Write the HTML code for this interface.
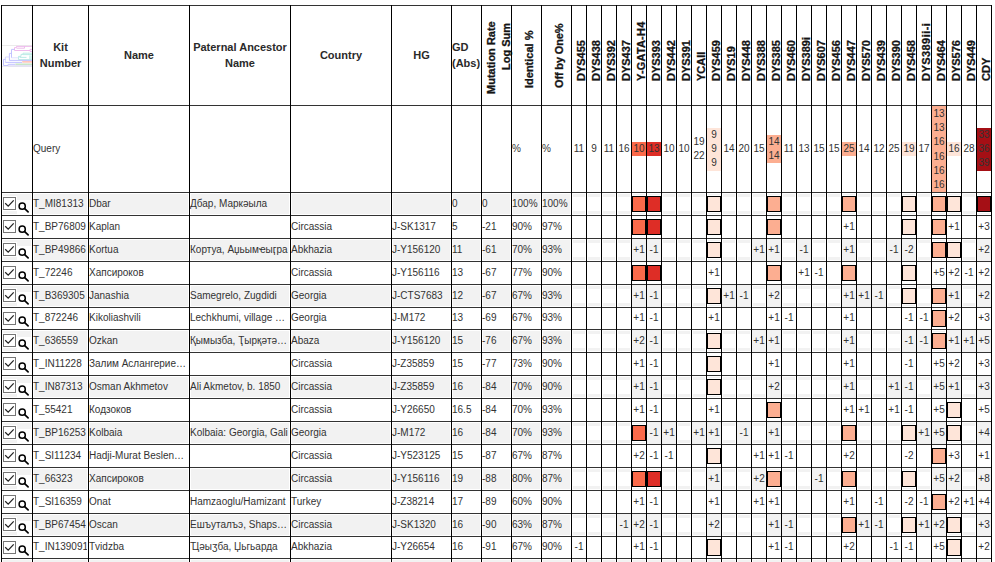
<!DOCTYPE html>
<html><head><meta charset="utf-8"><title>Y-STR comparison</title>
<style>
html,body{margin:0;padding:0;background:#fff;}
body{width:995px;height:562px;overflow:hidden;position:relative;font-family:"Liberation Sans",sans-serif;}
#p{position:absolute;left:0;top:0;width:995px;height:562px;overflow:hidden;background:#fff;}
#p div{position:absolute;}
.t{font-size:10px;line-height:14px;height:14px;color:#333;white-space:nowrap;overflow:hidden;}
.c{font-size:10px;line-height:14px;height:14px;color:#333;white-space:nowrap;text-align:center;}
.h{font-size:11px;line-height:16px;font-weight:bold;color:#2a2a2a;text-align:center;}
.r{font-size:11px;line-height:11px;height:11px;font-weight:bold;color:#141414;white-space:nowrap;transform-origin:0 0;transform:rotate(-90deg);-webkit-text-stroke:0.3px #141414;}
.b{box-sizing:border-box;border:1px solid #000;}
#p svg{position:absolute;}
</style></head><body><div id="p">
<div style="left:3px;top:194px;width:28px;height:20px;background:#f2f2f2;"></div>
<div style="left:34px;top:194px;width:53px;height:20px;background:#f2f2f2;"></div>
<div style="left:90px;top:194px;width:98px;height:20px;background:#f2f2f2;"></div>
<div style="left:191px;top:194px;width:98px;height:20px;background:#f2f2f2;"></div>
<div style="left:292px;top:194px;width:98px;height:20px;background:#f2f2f2;"></div>
<div style="left:393px;top:194px;width:57px;height:20px;background:#f2f2f2;"></div>
<div style="left:453px;top:194px;width:27px;height:20px;background:#f2f2f2;"></div>
<div style="left:483px;top:194px;width:27px;height:20px;background:#f2f2f2;"></div>
<div style="left:513px;top:194px;width:27px;height:20px;background:#f2f2f2;"></div>
<div style="left:543px;top:194px;width:27px;height:20px;background:#f2f2f2;"></div>
<div style="left:17px;top:200px;width:14px;height:14px;background:#fff;"></div>
<div style="left:2px;top:196px;width:15px;height:15px;background:#fff;"></div>
<div class="t" style="left:33px;top:197px;width:54px;">T_MI81313</div>
<div class="t" style="left:89px;top:197px;width:99px;">Dbar</div>
<div class="t" style="left:190px;top:197px;width:99px;">Дбар, Маркәыла</div>
<div class="t" style="left:452px;top:197px;width:28px;">0</div>
<div class="t" style="left:482px;top:197px;width:28px;">0</div>
<div class="t" style="left:512px;top:197px;width:28px;">100%</div>
<div class="t" style="left:542px;top:197px;width:28px;">100%</div>
<div style="left:3px;top:197px;width:13px;height:13px;box-sizing:border-box;border:1px solid #767676;background:#fff;"></div>
<svg style="left:3px;top:197px" width="13" height="13" viewBox="0 0 13 13"><path d="M2.2 6.2 L5.2 9.1 L10.7 3.4" fill="none" stroke="#222" stroke-width="1.3"/></svg>
<svg style="left:16px;top:200px" width="15" height="15" viewBox="0 0 15 15"><circle cx="6.2" cy="6.2" r="3.1" fill="none" stroke="#000" stroke-width="1.5"/><path d="M8.7 8.7 L12.1 11.9" stroke="#000" stroke-width="1.7" stroke-linecap="round"/></svg>
<div style="left:573px;top:194px;width:12px;height:3px;background:#f2f2f2;"></div>
<div style="left:573px;top:211px;width:12px;height:3px;background:#f2f2f2;"></div>
<div style="left:588px;top:194px;width:12px;height:3px;background:#f2f2f2;"></div>
<div style="left:588px;top:211px;width:12px;height:3px;background:#f2f2f2;"></div>
<div style="left:603px;top:194px;width:12px;height:3px;background:#f2f2f2;"></div>
<div style="left:603px;top:211px;width:12px;height:3px;background:#f2f2f2;"></div>
<div style="left:618px;top:194px;width:12px;height:3px;background:#f2f2f2;"></div>
<div style="left:618px;top:211px;width:12px;height:3px;background:#f2f2f2;"></div>
<div style="left:633px;top:194px;width:12px;height:1px;background:#f2f2f2;"></div>
<div style="left:633px;top:213px;width:12px;height:1px;background:#f2f2f2;"></div>
<div style="left:632px;top:196px;width:14px;height:16px;background:#fb6a4a;box-sizing:border-box;border:1px solid #000;"></div>
<div style="left:648px;top:194px;width:12px;height:1px;background:#f2f2f2;"></div>
<div style="left:648px;top:213px;width:12px;height:1px;background:#f2f2f2;"></div>
<div style="left:647px;top:196px;width:14px;height:16px;background:#de2d26;box-sizing:border-box;border:1px solid #000;"></div>
<div style="left:663px;top:194px;width:12px;height:3px;background:#f2f2f2;"></div>
<div style="left:663px;top:211px;width:12px;height:3px;background:#f2f2f2;"></div>
<div style="left:678px;top:194px;width:12px;height:3px;background:#f2f2f2;"></div>
<div style="left:678px;top:211px;width:12px;height:3px;background:#f2f2f2;"></div>
<div style="left:693px;top:194px;width:12px;height:3px;background:#f2f2f2;"></div>
<div style="left:693px;top:211px;width:12px;height:3px;background:#f2f2f2;"></div>
<div style="left:708px;top:194px;width:12px;height:1px;background:#f2f2f2;"></div>
<div style="left:708px;top:213px;width:12px;height:1px;background:#f2f2f2;"></div>
<div style="left:707px;top:196px;width:14px;height:16px;background:#fee5d9;box-sizing:border-box;border:1px solid #000;"></div>
<div style="left:723px;top:194px;width:12px;height:3px;background:#f2f2f2;"></div>
<div style="left:723px;top:211px;width:12px;height:3px;background:#f2f2f2;"></div>
<div style="left:738px;top:194px;width:12px;height:3px;background:#f2f2f2;"></div>
<div style="left:738px;top:211px;width:12px;height:3px;background:#f2f2f2;"></div>
<div style="left:753px;top:194px;width:12px;height:3px;background:#f2f2f2;"></div>
<div style="left:753px;top:211px;width:12px;height:3px;background:#f2f2f2;"></div>
<div style="left:768px;top:194px;width:12px;height:1px;background:#f2f2f2;"></div>
<div style="left:768px;top:213px;width:12px;height:1px;background:#f2f2f2;"></div>
<div style="left:767px;top:196px;width:14px;height:16px;background:#fcae91;box-sizing:border-box;border:1px solid #000;"></div>
<div style="left:783px;top:194px;width:12px;height:3px;background:#f2f2f2;"></div>
<div style="left:783px;top:211px;width:12px;height:3px;background:#f2f2f2;"></div>
<div style="left:798px;top:194px;width:12px;height:3px;background:#f2f2f2;"></div>
<div style="left:798px;top:211px;width:12px;height:3px;background:#f2f2f2;"></div>
<div style="left:813px;top:194px;width:12px;height:3px;background:#f2f2f2;"></div>
<div style="left:813px;top:211px;width:12px;height:3px;background:#f2f2f2;"></div>
<div style="left:828px;top:194px;width:12px;height:3px;background:#f2f2f2;"></div>
<div style="left:828px;top:211px;width:12px;height:3px;background:#f2f2f2;"></div>
<div style="left:843px;top:194px;width:12px;height:1px;background:#f2f2f2;"></div>
<div style="left:843px;top:213px;width:12px;height:1px;background:#f2f2f2;"></div>
<div style="left:842px;top:196px;width:14px;height:16px;background:#fcae91;box-sizing:border-box;border:1px solid #000;"></div>
<div style="left:858px;top:194px;width:12px;height:3px;background:#f2f2f2;"></div>
<div style="left:858px;top:211px;width:12px;height:3px;background:#f2f2f2;"></div>
<div style="left:873px;top:194px;width:12px;height:3px;background:#f2f2f2;"></div>
<div style="left:873px;top:211px;width:12px;height:3px;background:#f2f2f2;"></div>
<div style="left:888px;top:194px;width:12px;height:3px;background:#f2f2f2;"></div>
<div style="left:888px;top:211px;width:12px;height:3px;background:#f2f2f2;"></div>
<div style="left:903px;top:194px;width:12px;height:1px;background:#f2f2f2;"></div>
<div style="left:903px;top:213px;width:12px;height:1px;background:#f2f2f2;"></div>
<div style="left:902px;top:196px;width:14px;height:16px;background:#fee5d9;box-sizing:border-box;border:1px solid #000;"></div>
<div style="left:918px;top:194px;width:12px;height:3px;background:#f2f2f2;"></div>
<div style="left:918px;top:211px;width:12px;height:3px;background:#f2f2f2;"></div>
<div style="left:933px;top:194px;width:12px;height:1px;background:#f2f2f2;"></div>
<div style="left:933px;top:213px;width:12px;height:1px;background:#f2f2f2;"></div>
<div style="left:932px;top:196px;width:14px;height:16px;background:#fcae91;box-sizing:border-box;border:1px solid #000;"></div>
<div style="left:948px;top:194px;width:12px;height:1px;background:#f2f2f2;"></div>
<div style="left:948px;top:213px;width:12px;height:1px;background:#f2f2f2;"></div>
<div style="left:947px;top:196px;width:14px;height:16px;background:#fee5d9;box-sizing:border-box;border:1px solid #000;"></div>
<div style="left:963px;top:194px;width:12px;height:3px;background:#f2f2f2;"></div>
<div style="left:963px;top:211px;width:12px;height:3px;background:#f2f2f2;"></div>
<div style="left:978px;top:194px;width:12px;height:1px;background:#f2f2f2;"></div>
<div style="left:978px;top:213px;width:12px;height:1px;background:#f2f2f2;"></div>
<div style="left:977px;top:196px;width:14px;height:16px;background:#a50f15;box-sizing:border-box;border:1px solid #000;"></div>
<div class="t" style="left:33px;top:220px;width:54px;">T_BP76809</div>
<div class="t" style="left:89px;top:220px;width:99px;">Kaplan</div>
<div class="t" style="left:291px;top:220px;width:99px;">Circassia</div>
<div class="t" style="left:392px;top:220px;width:58px;">J-SK1317</div>
<div class="t" style="left:452px;top:220px;width:28px;">5</div>
<div class="t" style="left:482px;top:220px;width:28px;">-21</div>
<div class="t" style="left:512px;top:220px;width:28px;">90%</div>
<div class="t" style="left:542px;top:220px;width:28px;">97%</div>
<div style="left:3px;top:220px;width:13px;height:13px;box-sizing:border-box;border:1px solid #767676;background:#fff;"></div>
<svg style="left:3px;top:220px" width="13" height="13" viewBox="0 0 13 13"><path d="M2.2 6.2 L5.2 9.1 L10.7 3.4" fill="none" stroke="#222" stroke-width="1.3"/></svg>
<svg style="left:16px;top:223px" width="15" height="15" viewBox="0 0 15 15"><circle cx="6.2" cy="6.2" r="3.1" fill="none" stroke="#000" stroke-width="1.5"/><path d="M8.7 8.7 L12.1 11.9" stroke="#000" stroke-width="1.7" stroke-linecap="round"/></svg>
<div style="left:632px;top:219px;width:14px;height:16px;background:#fb6a4a;box-sizing:border-box;border:1px solid #000;"></div>
<div style="left:647px;top:219px;width:14px;height:16px;background:#de2d26;box-sizing:border-box;border:1px solid #000;"></div>
<div style="left:707px;top:219px;width:14px;height:16px;background:#fee5d9;box-sizing:border-box;border:1px solid #000;"></div>
<div style="left:767px;top:219px;width:14px;height:16px;background:#fcae91;box-sizing:border-box;border:1px solid #000;"></div>
<div class="c" style="left:842px;top:220px;width:14px;">+1</div>
<div style="left:902px;top:219px;width:14px;height:16px;background:#fee5d9;box-sizing:border-box;border:1px solid #000;"></div>
<div style="left:932px;top:219px;width:14px;height:16px;background:#fcae91;box-sizing:border-box;border:1px solid #000;"></div>
<div class="c" style="left:947px;top:220px;width:14px;">+1</div>
<div class="c" style="left:977px;top:220px;width:14px;">+3</div>
<div style="left:3px;top:240px;width:28px;height:20px;background:#f2f2f2;"></div>
<div style="left:34px;top:240px;width:53px;height:20px;background:#f2f2f2;"></div>
<div style="left:90px;top:240px;width:98px;height:20px;background:#f2f2f2;"></div>
<div style="left:191px;top:240px;width:98px;height:20px;background:#f2f2f2;"></div>
<div style="left:292px;top:240px;width:98px;height:20px;background:#f2f2f2;"></div>
<div style="left:393px;top:240px;width:57px;height:20px;background:#f2f2f2;"></div>
<div style="left:453px;top:240px;width:27px;height:20px;background:#f2f2f2;"></div>
<div style="left:483px;top:240px;width:27px;height:20px;background:#f2f2f2;"></div>
<div style="left:513px;top:240px;width:27px;height:20px;background:#f2f2f2;"></div>
<div style="left:543px;top:240px;width:27px;height:20px;background:#f2f2f2;"></div>
<div style="left:17px;top:246px;width:14px;height:14px;background:#fff;"></div>
<div style="left:2px;top:242px;width:15px;height:15px;background:#fff;"></div>
<div class="t" style="left:33px;top:243px;width:54px;">T_BP49866</div>
<div class="t" style="left:89px;top:243px;width:99px;">Kortua</div>
<div class="t" style="left:190px;top:243px;width:99px;">Кортуа, Аџьымҽыӷра</div>
<div class="t" style="left:291px;top:243px;width:99px;">Abkhazia</div>
<div class="t" style="left:392px;top:243px;width:58px;">J-Y156120</div>
<div class="t" style="left:452px;top:243px;width:28px;">11</div>
<div class="t" style="left:482px;top:243px;width:28px;">-61</div>
<div class="t" style="left:512px;top:243px;width:28px;">70%</div>
<div class="t" style="left:542px;top:243px;width:28px;">93%</div>
<div style="left:3px;top:243px;width:13px;height:13px;box-sizing:border-box;border:1px solid #767676;background:#fff;"></div>
<svg style="left:3px;top:243px" width="13" height="13" viewBox="0 0 13 13"><path d="M2.2 6.2 L5.2 9.1 L10.7 3.4" fill="none" stroke="#222" stroke-width="1.3"/></svg>
<svg style="left:16px;top:246px" width="15" height="15" viewBox="0 0 15 15"><circle cx="6.2" cy="6.2" r="3.1" fill="none" stroke="#000" stroke-width="1.5"/><path d="M8.7 8.7 L12.1 11.9" stroke="#000" stroke-width="1.7" stroke-linecap="round"/></svg>
<div style="left:573px;top:240px;width:12px;height:3px;background:#f2f2f2;"></div>
<div style="left:573px;top:257px;width:12px;height:3px;background:#f2f2f2;"></div>
<div style="left:588px;top:240px;width:12px;height:3px;background:#f2f2f2;"></div>
<div style="left:588px;top:257px;width:12px;height:3px;background:#f2f2f2;"></div>
<div style="left:603px;top:240px;width:12px;height:3px;background:#f2f2f2;"></div>
<div style="left:603px;top:257px;width:12px;height:3px;background:#f2f2f2;"></div>
<div style="left:618px;top:240px;width:12px;height:3px;background:#f2f2f2;"></div>
<div style="left:618px;top:257px;width:12px;height:3px;background:#f2f2f2;"></div>
<div style="left:632px;top:239px;width:14px;height:22px;background:#f2f2f2;"></div>
<div class="c" style="left:632px;top:243px;width:14px;">+1</div>
<div style="left:647px;top:239px;width:14px;height:22px;background:#f2f2f2;"></div>
<div class="c" style="left:647px;top:243px;width:14px;">-1</div>
<div style="left:663px;top:240px;width:12px;height:3px;background:#f2f2f2;"></div>
<div style="left:663px;top:257px;width:12px;height:3px;background:#f2f2f2;"></div>
<div style="left:678px;top:240px;width:12px;height:3px;background:#f2f2f2;"></div>
<div style="left:678px;top:257px;width:12px;height:3px;background:#f2f2f2;"></div>
<div style="left:693px;top:240px;width:12px;height:3px;background:#f2f2f2;"></div>
<div style="left:693px;top:257px;width:12px;height:3px;background:#f2f2f2;"></div>
<div style="left:708px;top:240px;width:12px;height:1px;background:#f2f2f2;"></div>
<div style="left:708px;top:259px;width:12px;height:1px;background:#f2f2f2;"></div>
<div style="left:707px;top:242px;width:14px;height:16px;background:#fee5d9;box-sizing:border-box;border:1px solid #000;"></div>
<div style="left:723px;top:240px;width:12px;height:3px;background:#f2f2f2;"></div>
<div style="left:723px;top:257px;width:12px;height:3px;background:#f2f2f2;"></div>
<div style="left:738px;top:240px;width:12px;height:3px;background:#f2f2f2;"></div>
<div style="left:738px;top:257px;width:12px;height:3px;background:#f2f2f2;"></div>
<div style="left:752px;top:239px;width:14px;height:22px;background:#f2f2f2;"></div>
<div class="c" style="left:752px;top:243px;width:14px;">+1</div>
<div style="left:767px;top:239px;width:14px;height:22px;background:#f2f2f2;"></div>
<div class="c" style="left:767px;top:243px;width:14px;">+1</div>
<div style="left:783px;top:240px;width:12px;height:3px;background:#f2f2f2;"></div>
<div style="left:783px;top:257px;width:12px;height:3px;background:#f2f2f2;"></div>
<div style="left:797px;top:239px;width:14px;height:22px;background:#f2f2f2;"></div>
<div class="c" style="left:797px;top:243px;width:14px;">-1</div>
<div style="left:813px;top:240px;width:12px;height:3px;background:#f2f2f2;"></div>
<div style="left:813px;top:257px;width:12px;height:3px;background:#f2f2f2;"></div>
<div style="left:828px;top:240px;width:12px;height:3px;background:#f2f2f2;"></div>
<div style="left:828px;top:257px;width:12px;height:3px;background:#f2f2f2;"></div>
<div style="left:842px;top:239px;width:14px;height:22px;background:#f2f2f2;"></div>
<div class="c" style="left:842px;top:243px;width:14px;">+1</div>
<div style="left:858px;top:240px;width:12px;height:3px;background:#f2f2f2;"></div>
<div style="left:858px;top:257px;width:12px;height:3px;background:#f2f2f2;"></div>
<div style="left:873px;top:240px;width:12px;height:3px;background:#f2f2f2;"></div>
<div style="left:873px;top:257px;width:12px;height:3px;background:#f2f2f2;"></div>
<div style="left:887px;top:239px;width:14px;height:22px;background:#f2f2f2;"></div>
<div class="c" style="left:887px;top:243px;width:14px;">-1</div>
<div style="left:902px;top:239px;width:14px;height:22px;background:#f2f2f2;"></div>
<div class="c" style="left:902px;top:243px;width:14px;">-2</div>
<div style="left:918px;top:240px;width:12px;height:3px;background:#f2f2f2;"></div>
<div style="left:918px;top:257px;width:12px;height:3px;background:#f2f2f2;"></div>
<div style="left:933px;top:240px;width:12px;height:1px;background:#f2f2f2;"></div>
<div style="left:933px;top:259px;width:12px;height:1px;background:#f2f2f2;"></div>
<div style="left:932px;top:242px;width:14px;height:16px;background:#fcae91;box-sizing:border-box;border:1px solid #000;"></div>
<div style="left:948px;top:240px;width:12px;height:1px;background:#f2f2f2;"></div>
<div style="left:948px;top:259px;width:12px;height:1px;background:#f2f2f2;"></div>
<div style="left:947px;top:242px;width:14px;height:16px;background:#fee5d9;box-sizing:border-box;border:1px solid #000;"></div>
<div style="left:963px;top:240px;width:12px;height:3px;background:#f2f2f2;"></div>
<div style="left:963px;top:257px;width:12px;height:3px;background:#f2f2f2;"></div>
<div style="left:977px;top:239px;width:14px;height:22px;background:#f2f2f2;"></div>
<div class="c" style="left:977px;top:243px;width:14px;">+2</div>
<div class="t" style="left:33px;top:266px;width:54px;">T_72246</div>
<div class="t" style="left:89px;top:266px;width:99px;">Хапсироков</div>
<div class="t" style="left:291px;top:266px;width:99px;">Circassia</div>
<div class="t" style="left:392px;top:266px;width:58px;">J-Y156116</div>
<div class="t" style="left:452px;top:266px;width:28px;">13</div>
<div class="t" style="left:482px;top:266px;width:28px;">-67</div>
<div class="t" style="left:512px;top:266px;width:28px;">77%</div>
<div class="t" style="left:542px;top:266px;width:28px;">90%</div>
<div style="left:3px;top:266px;width:13px;height:13px;box-sizing:border-box;border:1px solid #767676;background:#fff;"></div>
<svg style="left:3px;top:266px" width="13" height="13" viewBox="0 0 13 13"><path d="M2.2 6.2 L5.2 9.1 L10.7 3.4" fill="none" stroke="#222" stroke-width="1.3"/></svg>
<svg style="left:16px;top:269px" width="15" height="15" viewBox="0 0 15 15"><circle cx="6.2" cy="6.2" r="3.1" fill="none" stroke="#000" stroke-width="1.5"/><path d="M8.7 8.7 L12.1 11.9" stroke="#000" stroke-width="1.7" stroke-linecap="round"/></svg>
<div style="left:632px;top:265px;width:14px;height:16px;background:#fb6a4a;box-sizing:border-box;border:1px solid #000;"></div>
<div style="left:647px;top:265px;width:14px;height:16px;background:#de2d26;box-sizing:border-box;border:1px solid #000;"></div>
<div class="c" style="left:707px;top:266px;width:14px;">+1</div>
<div style="left:767px;top:265px;width:14px;height:16px;background:#fcae91;box-sizing:border-box;border:1px solid #000;"></div>
<div class="c" style="left:797px;top:266px;width:14px;">+1</div>
<div class="c" style="left:812px;top:266px;width:14px;">-1</div>
<div style="left:842px;top:265px;width:14px;height:16px;background:#fcae91;box-sizing:border-box;border:1px solid #000;"></div>
<div style="left:902px;top:265px;width:14px;height:16px;background:#fee5d9;box-sizing:border-box;border:1px solid #000;"></div>
<div class="c" style="left:932px;top:266px;width:14px;">+5</div>
<div class="c" style="left:947px;top:266px;width:14px;">+2</div>
<div class="c" style="left:962px;top:266px;width:14px;">-1</div>
<div class="c" style="left:977px;top:266px;width:14px;">+2</div>
<div style="left:3px;top:286px;width:28px;height:20px;background:#f2f2f2;"></div>
<div style="left:34px;top:286px;width:53px;height:20px;background:#f2f2f2;"></div>
<div style="left:90px;top:286px;width:98px;height:20px;background:#f2f2f2;"></div>
<div style="left:191px;top:286px;width:98px;height:20px;background:#f2f2f2;"></div>
<div style="left:292px;top:286px;width:98px;height:20px;background:#f2f2f2;"></div>
<div style="left:393px;top:286px;width:57px;height:20px;background:#f2f2f2;"></div>
<div style="left:453px;top:286px;width:27px;height:20px;background:#f2f2f2;"></div>
<div style="left:483px;top:286px;width:27px;height:20px;background:#f2f2f2;"></div>
<div style="left:513px;top:286px;width:27px;height:20px;background:#f2f2f2;"></div>
<div style="left:543px;top:286px;width:27px;height:20px;background:#f2f2f2;"></div>
<div style="left:17px;top:292px;width:14px;height:14px;background:#fff;"></div>
<div style="left:2px;top:288px;width:15px;height:15px;background:#fff;"></div>
<div class="t" style="left:33px;top:289px;width:54px;">T_B369305</div>
<div class="t" style="left:89px;top:289px;width:99px;">Janashia</div>
<div class="t" style="left:190px;top:289px;width:99px;">Samegrelo, Zugdidi</div>
<div class="t" style="left:291px;top:289px;width:99px;">Georgia</div>
<div class="t" style="left:392px;top:289px;width:58px;">J-CTS7683</div>
<div class="t" style="left:452px;top:289px;width:28px;">12</div>
<div class="t" style="left:482px;top:289px;width:28px;">-67</div>
<div class="t" style="left:512px;top:289px;width:28px;">67%</div>
<div class="t" style="left:542px;top:289px;width:28px;">93%</div>
<div style="left:3px;top:289px;width:13px;height:13px;box-sizing:border-box;border:1px solid #767676;background:#fff;"></div>
<svg style="left:3px;top:289px" width="13" height="13" viewBox="0 0 13 13"><path d="M2.2 6.2 L5.2 9.1 L10.7 3.4" fill="none" stroke="#222" stroke-width="1.3"/></svg>
<svg style="left:16px;top:292px" width="15" height="15" viewBox="0 0 15 15"><circle cx="6.2" cy="6.2" r="3.1" fill="none" stroke="#000" stroke-width="1.5"/><path d="M8.7 8.7 L12.1 11.9" stroke="#000" stroke-width="1.7" stroke-linecap="round"/></svg>
<div style="left:573px;top:286px;width:12px;height:3px;background:#f2f2f2;"></div>
<div style="left:573px;top:303px;width:12px;height:3px;background:#f2f2f2;"></div>
<div style="left:588px;top:286px;width:12px;height:3px;background:#f2f2f2;"></div>
<div style="left:588px;top:303px;width:12px;height:3px;background:#f2f2f2;"></div>
<div style="left:603px;top:286px;width:12px;height:3px;background:#f2f2f2;"></div>
<div style="left:603px;top:303px;width:12px;height:3px;background:#f2f2f2;"></div>
<div style="left:618px;top:286px;width:12px;height:3px;background:#f2f2f2;"></div>
<div style="left:618px;top:303px;width:12px;height:3px;background:#f2f2f2;"></div>
<div style="left:632px;top:285px;width:14px;height:22px;background:#f2f2f2;"></div>
<div class="c" style="left:632px;top:289px;width:14px;">+1</div>
<div style="left:647px;top:285px;width:14px;height:22px;background:#f2f2f2;"></div>
<div class="c" style="left:647px;top:289px;width:14px;">-1</div>
<div style="left:663px;top:286px;width:12px;height:3px;background:#f2f2f2;"></div>
<div style="left:663px;top:303px;width:12px;height:3px;background:#f2f2f2;"></div>
<div style="left:678px;top:286px;width:12px;height:3px;background:#f2f2f2;"></div>
<div style="left:678px;top:303px;width:12px;height:3px;background:#f2f2f2;"></div>
<div style="left:693px;top:286px;width:12px;height:3px;background:#f2f2f2;"></div>
<div style="left:693px;top:303px;width:12px;height:3px;background:#f2f2f2;"></div>
<div style="left:708px;top:286px;width:12px;height:1px;background:#f2f2f2;"></div>
<div style="left:708px;top:305px;width:12px;height:1px;background:#f2f2f2;"></div>
<div style="left:707px;top:288px;width:14px;height:16px;background:#fee5d9;box-sizing:border-box;border:1px solid #000;"></div>
<div style="left:722px;top:285px;width:14px;height:22px;background:#f2f2f2;"></div>
<div class="c" style="left:722px;top:289px;width:14px;">+1</div>
<div style="left:737px;top:285px;width:14px;height:22px;background:#f2f2f2;"></div>
<div class="c" style="left:737px;top:289px;width:14px;">-1</div>
<div style="left:753px;top:286px;width:12px;height:3px;background:#f2f2f2;"></div>
<div style="left:753px;top:303px;width:12px;height:3px;background:#f2f2f2;"></div>
<div style="left:767px;top:285px;width:14px;height:22px;background:#f2f2f2;"></div>
<div class="c" style="left:767px;top:289px;width:14px;">+2</div>
<div style="left:783px;top:286px;width:12px;height:3px;background:#f2f2f2;"></div>
<div style="left:783px;top:303px;width:12px;height:3px;background:#f2f2f2;"></div>
<div style="left:798px;top:286px;width:12px;height:3px;background:#f2f2f2;"></div>
<div style="left:798px;top:303px;width:12px;height:3px;background:#f2f2f2;"></div>
<div style="left:813px;top:286px;width:12px;height:3px;background:#f2f2f2;"></div>
<div style="left:813px;top:303px;width:12px;height:3px;background:#f2f2f2;"></div>
<div style="left:828px;top:286px;width:12px;height:3px;background:#f2f2f2;"></div>
<div style="left:828px;top:303px;width:12px;height:3px;background:#f2f2f2;"></div>
<div style="left:842px;top:285px;width:14px;height:22px;background:#f2f2f2;"></div>
<div class="c" style="left:842px;top:289px;width:14px;">+1</div>
<div style="left:857px;top:285px;width:14px;height:22px;background:#f2f2f2;"></div>
<div class="c" style="left:857px;top:289px;width:14px;">+1</div>
<div style="left:872px;top:285px;width:14px;height:22px;background:#f2f2f2;"></div>
<div class="c" style="left:872px;top:289px;width:14px;">-1</div>
<div style="left:888px;top:286px;width:12px;height:3px;background:#f2f2f2;"></div>
<div style="left:888px;top:303px;width:12px;height:3px;background:#f2f2f2;"></div>
<div style="left:903px;top:286px;width:12px;height:1px;background:#f2f2f2;"></div>
<div style="left:903px;top:305px;width:12px;height:1px;background:#f2f2f2;"></div>
<div style="left:902px;top:288px;width:14px;height:16px;background:#fee5d9;box-sizing:border-box;border:1px solid #000;"></div>
<div style="left:918px;top:286px;width:12px;height:3px;background:#f2f2f2;"></div>
<div style="left:918px;top:303px;width:12px;height:3px;background:#f2f2f2;"></div>
<div style="left:933px;top:286px;width:12px;height:1px;background:#f2f2f2;"></div>
<div style="left:933px;top:305px;width:12px;height:1px;background:#f2f2f2;"></div>
<div style="left:932px;top:288px;width:14px;height:16px;background:#fcae91;box-sizing:border-box;border:1px solid #000;"></div>
<div style="left:947px;top:285px;width:14px;height:22px;background:#f2f2f2;"></div>
<div class="c" style="left:947px;top:289px;width:14px;">+1</div>
<div style="left:963px;top:286px;width:12px;height:3px;background:#f2f2f2;"></div>
<div style="left:963px;top:303px;width:12px;height:3px;background:#f2f2f2;"></div>
<div style="left:977px;top:285px;width:14px;height:22px;background:#f2f2f2;"></div>
<div class="c" style="left:977px;top:289px;width:14px;">+2</div>
<div class="t" style="left:33px;top:311px;width:54px;">T_872246</div>
<div class="t" style="left:89px;top:311px;width:99px;">Kikoliashvili</div>
<div class="t" style="left:190px;top:311px;width:99px;">Lechkhumi, village …</div>
<div class="t" style="left:291px;top:311px;width:99px;">Georgia</div>
<div class="t" style="left:392px;top:311px;width:58px;">J-M172</div>
<div class="t" style="left:452px;top:311px;width:28px;">13</div>
<div class="t" style="left:482px;top:311px;width:28px;">-69</div>
<div class="t" style="left:512px;top:311px;width:28px;">67%</div>
<div class="t" style="left:542px;top:311px;width:28px;">93%</div>
<div style="left:3px;top:312px;width:13px;height:13px;box-sizing:border-box;border:1px solid #767676;background:#fff;"></div>
<svg style="left:3px;top:312px" width="13" height="13" viewBox="0 0 13 13"><path d="M2.2 6.2 L5.2 9.1 L10.7 3.4" fill="none" stroke="#222" stroke-width="1.3"/></svg>
<svg style="left:16px;top:314px" width="15" height="15" viewBox="0 0 15 15"><circle cx="6.2" cy="6.2" r="3.1" fill="none" stroke="#000" stroke-width="1.5"/><path d="M8.7 8.7 L12.1 11.9" stroke="#000" stroke-width="1.7" stroke-linecap="round"/></svg>
<div class="c" style="left:632px;top:311px;width:14px;">+1</div>
<div class="c" style="left:647px;top:311px;width:14px;">-1</div>
<div class="c" style="left:707px;top:311px;width:14px;">+1</div>
<div class="c" style="left:767px;top:311px;width:14px;">+1</div>
<div class="c" style="left:782px;top:311px;width:14px;">-1</div>
<div class="c" style="left:842px;top:311px;width:14px;">+1</div>
<div class="c" style="left:902px;top:311px;width:14px;">-1</div>
<div class="c" style="left:917px;top:311px;width:14px;">-1</div>
<div style="left:932px;top:310px;width:14px;height:17px;background:#fcae91;box-sizing:border-box;border:1px solid #000;"></div>
<div class="c" style="left:947px;top:311px;width:14px;">+2</div>
<div class="c" style="left:977px;top:311px;width:14px;">+3</div>
<div style="left:3px;top:331px;width:28px;height:20px;background:#f2f2f2;"></div>
<div style="left:34px;top:331px;width:53px;height:20px;background:#f2f2f2;"></div>
<div style="left:90px;top:331px;width:98px;height:20px;background:#f2f2f2;"></div>
<div style="left:191px;top:331px;width:98px;height:20px;background:#f2f2f2;"></div>
<div style="left:292px;top:331px;width:98px;height:20px;background:#f2f2f2;"></div>
<div style="left:393px;top:331px;width:57px;height:20px;background:#f2f2f2;"></div>
<div style="left:453px;top:331px;width:27px;height:20px;background:#f2f2f2;"></div>
<div style="left:483px;top:331px;width:27px;height:20px;background:#f2f2f2;"></div>
<div style="left:513px;top:331px;width:27px;height:20px;background:#f2f2f2;"></div>
<div style="left:543px;top:331px;width:27px;height:20px;background:#f2f2f2;"></div>
<div style="left:17px;top:337px;width:14px;height:14px;background:#fff;"></div>
<div style="left:2px;top:333px;width:15px;height:15px;background:#fff;"></div>
<div class="t" style="left:33px;top:334px;width:54px;">T_636559</div>
<div class="t" style="left:89px;top:334px;width:99px;">Ozkan</div>
<div class="t" style="left:190px;top:334px;width:99px;">Қымызба, Ҭырқәтә…</div>
<div class="t" style="left:291px;top:334px;width:99px;">Abaza</div>
<div class="t" style="left:392px;top:334px;width:58px;">J-Y156120</div>
<div class="t" style="left:452px;top:334px;width:28px;">15</div>
<div class="t" style="left:482px;top:334px;width:28px;">-76</div>
<div class="t" style="left:512px;top:334px;width:28px;">67%</div>
<div class="t" style="left:542px;top:334px;width:28px;">93%</div>
<div style="left:3px;top:334px;width:13px;height:13px;box-sizing:border-box;border:1px solid #767676;background:#fff;"></div>
<svg style="left:3px;top:334px" width="13" height="13" viewBox="0 0 13 13"><path d="M2.2 6.2 L5.2 9.1 L10.7 3.4" fill="none" stroke="#222" stroke-width="1.3"/></svg>
<svg style="left:16px;top:337px" width="15" height="15" viewBox="0 0 15 15"><circle cx="6.2" cy="6.2" r="3.1" fill="none" stroke="#000" stroke-width="1.5"/><path d="M8.7 8.7 L12.1 11.9" stroke="#000" stroke-width="1.7" stroke-linecap="round"/></svg>
<div style="left:573px;top:331px;width:12px;height:3px;background:#f2f2f2;"></div>
<div style="left:573px;top:348px;width:12px;height:3px;background:#f2f2f2;"></div>
<div style="left:588px;top:331px;width:12px;height:3px;background:#f2f2f2;"></div>
<div style="left:588px;top:348px;width:12px;height:3px;background:#f2f2f2;"></div>
<div style="left:603px;top:331px;width:12px;height:3px;background:#f2f2f2;"></div>
<div style="left:603px;top:348px;width:12px;height:3px;background:#f2f2f2;"></div>
<div style="left:618px;top:331px;width:12px;height:3px;background:#f2f2f2;"></div>
<div style="left:618px;top:348px;width:12px;height:3px;background:#f2f2f2;"></div>
<div style="left:632px;top:330px;width:14px;height:22px;background:#f2f2f2;"></div>
<div class="c" style="left:632px;top:334px;width:14px;">+2</div>
<div style="left:647px;top:330px;width:14px;height:22px;background:#f2f2f2;"></div>
<div class="c" style="left:647px;top:334px;width:14px;">-1</div>
<div style="left:663px;top:331px;width:12px;height:3px;background:#f2f2f2;"></div>
<div style="left:663px;top:348px;width:12px;height:3px;background:#f2f2f2;"></div>
<div style="left:678px;top:331px;width:12px;height:3px;background:#f2f2f2;"></div>
<div style="left:678px;top:348px;width:12px;height:3px;background:#f2f2f2;"></div>
<div style="left:693px;top:331px;width:12px;height:3px;background:#f2f2f2;"></div>
<div style="left:693px;top:348px;width:12px;height:3px;background:#f2f2f2;"></div>
<div style="left:708px;top:331px;width:12px;height:1px;background:#f2f2f2;"></div>
<div style="left:708px;top:350px;width:12px;height:1px;background:#f2f2f2;"></div>
<div style="left:707px;top:333px;width:14px;height:16px;background:#fee5d9;box-sizing:border-box;border:1px solid #000;"></div>
<div style="left:723px;top:331px;width:12px;height:3px;background:#f2f2f2;"></div>
<div style="left:723px;top:348px;width:12px;height:3px;background:#f2f2f2;"></div>
<div style="left:738px;top:331px;width:12px;height:3px;background:#f2f2f2;"></div>
<div style="left:738px;top:348px;width:12px;height:3px;background:#f2f2f2;"></div>
<div style="left:752px;top:330px;width:14px;height:22px;background:#f2f2f2;"></div>
<div class="c" style="left:752px;top:334px;width:14px;">+1</div>
<div style="left:767px;top:330px;width:14px;height:22px;background:#f2f2f2;"></div>
<div class="c" style="left:767px;top:334px;width:14px;">+1</div>
<div style="left:783px;top:331px;width:12px;height:3px;background:#f2f2f2;"></div>
<div style="left:783px;top:348px;width:12px;height:3px;background:#f2f2f2;"></div>
<div style="left:798px;top:331px;width:12px;height:3px;background:#f2f2f2;"></div>
<div style="left:798px;top:348px;width:12px;height:3px;background:#f2f2f2;"></div>
<div style="left:813px;top:331px;width:12px;height:3px;background:#f2f2f2;"></div>
<div style="left:813px;top:348px;width:12px;height:3px;background:#f2f2f2;"></div>
<div style="left:828px;top:331px;width:12px;height:3px;background:#f2f2f2;"></div>
<div style="left:828px;top:348px;width:12px;height:3px;background:#f2f2f2;"></div>
<div style="left:842px;top:330px;width:14px;height:22px;background:#f2f2f2;"></div>
<div class="c" style="left:842px;top:334px;width:14px;">+1</div>
<div style="left:858px;top:331px;width:12px;height:3px;background:#f2f2f2;"></div>
<div style="left:858px;top:348px;width:12px;height:3px;background:#f2f2f2;"></div>
<div style="left:873px;top:331px;width:12px;height:3px;background:#f2f2f2;"></div>
<div style="left:873px;top:348px;width:12px;height:3px;background:#f2f2f2;"></div>
<div style="left:888px;top:331px;width:12px;height:3px;background:#f2f2f2;"></div>
<div style="left:888px;top:348px;width:12px;height:3px;background:#f2f2f2;"></div>
<div style="left:902px;top:330px;width:14px;height:22px;background:#f2f2f2;"></div>
<div class="c" style="left:902px;top:334px;width:14px;">-1</div>
<div style="left:917px;top:330px;width:14px;height:22px;background:#f2f2f2;"></div>
<div class="c" style="left:917px;top:334px;width:14px;">-1</div>
<div style="left:933px;top:331px;width:12px;height:1px;background:#f2f2f2;"></div>
<div style="left:933px;top:350px;width:12px;height:1px;background:#f2f2f2;"></div>
<div style="left:932px;top:333px;width:14px;height:16px;background:#fcae91;box-sizing:border-box;border:1px solid #000;"></div>
<div style="left:947px;top:330px;width:14px;height:22px;background:#f2f2f2;"></div>
<div class="c" style="left:947px;top:334px;width:14px;">+1</div>
<div style="left:962px;top:330px;width:14px;height:22px;background:#f2f2f2;"></div>
<div class="c" style="left:962px;top:334px;width:14px;">+1</div>
<div style="left:977px;top:330px;width:14px;height:22px;background:#f2f2f2;"></div>
<div class="c" style="left:977px;top:334px;width:14px;">+5</div>
<div class="t" style="left:33px;top:357px;width:54px;">T_IN11228</div>
<div class="t" style="left:89px;top:357px;width:99px;">Залим Аслангерие…</div>
<div class="t" style="left:291px;top:357px;width:99px;">Circassia</div>
<div class="t" style="left:392px;top:357px;width:58px;">J-Z35859</div>
<div class="t" style="left:452px;top:357px;width:28px;">15</div>
<div class="t" style="left:482px;top:357px;width:28px;">-77</div>
<div class="t" style="left:512px;top:357px;width:28px;">73%</div>
<div class="t" style="left:542px;top:357px;width:28px;">90%</div>
<div style="left:3px;top:357px;width:13px;height:13px;box-sizing:border-box;border:1px solid #767676;background:#fff;"></div>
<svg style="left:3px;top:357px" width="13" height="13" viewBox="0 0 13 13"><path d="M2.2 6.2 L5.2 9.1 L10.7 3.4" fill="none" stroke="#222" stroke-width="1.3"/></svg>
<svg style="left:16px;top:360px" width="15" height="15" viewBox="0 0 15 15"><circle cx="6.2" cy="6.2" r="3.1" fill="none" stroke="#000" stroke-width="1.5"/><path d="M8.7 8.7 L12.1 11.9" stroke="#000" stroke-width="1.7" stroke-linecap="round"/></svg>
<div class="c" style="left:632px;top:357px;width:14px;">+1</div>
<div class="c" style="left:647px;top:357px;width:14px;">-1</div>
<div style="left:707px;top:356px;width:14px;height:16px;background:#fee5d9;box-sizing:border-box;border:1px solid #000;"></div>
<div class="c" style="left:767px;top:357px;width:14px;">+1</div>
<div class="c" style="left:842px;top:357px;width:14px;">+1</div>
<div class="c" style="left:902px;top:357px;width:14px;">-1</div>
<div class="c" style="left:932px;top:357px;width:14px;">+5</div>
<div class="c" style="left:947px;top:357px;width:14px;">+2</div>
<div class="c" style="left:977px;top:357px;width:14px;">+3</div>
<div style="left:3px;top:377px;width:28px;height:20px;background:#f2f2f2;"></div>
<div style="left:34px;top:377px;width:53px;height:20px;background:#f2f2f2;"></div>
<div style="left:90px;top:377px;width:98px;height:20px;background:#f2f2f2;"></div>
<div style="left:191px;top:377px;width:98px;height:20px;background:#f2f2f2;"></div>
<div style="left:292px;top:377px;width:98px;height:20px;background:#f2f2f2;"></div>
<div style="left:393px;top:377px;width:57px;height:20px;background:#f2f2f2;"></div>
<div style="left:453px;top:377px;width:27px;height:20px;background:#f2f2f2;"></div>
<div style="left:483px;top:377px;width:27px;height:20px;background:#f2f2f2;"></div>
<div style="left:513px;top:377px;width:27px;height:20px;background:#f2f2f2;"></div>
<div style="left:543px;top:377px;width:27px;height:20px;background:#f2f2f2;"></div>
<div style="left:17px;top:383px;width:14px;height:14px;background:#fff;"></div>
<div style="left:2px;top:379px;width:15px;height:15px;background:#fff;"></div>
<div class="t" style="left:33px;top:380px;width:54px;">T_IN87313</div>
<div class="t" style="left:89px;top:380px;width:99px;">Osman Akhmetov</div>
<div class="t" style="left:190px;top:380px;width:99px;">Ali Akmetov, b. 1850</div>
<div class="t" style="left:291px;top:380px;width:99px;">Circassia</div>
<div class="t" style="left:392px;top:380px;width:58px;">J-Z35859</div>
<div class="t" style="left:452px;top:380px;width:28px;">16</div>
<div class="t" style="left:482px;top:380px;width:28px;">-84</div>
<div class="t" style="left:512px;top:380px;width:28px;">70%</div>
<div class="t" style="left:542px;top:380px;width:28px;">90%</div>
<div style="left:3px;top:380px;width:13px;height:13px;box-sizing:border-box;border:1px solid #767676;background:#fff;"></div>
<svg style="left:3px;top:380px" width="13" height="13" viewBox="0 0 13 13"><path d="M2.2 6.2 L5.2 9.1 L10.7 3.4" fill="none" stroke="#222" stroke-width="1.3"/></svg>
<svg style="left:16px;top:383px" width="15" height="15" viewBox="0 0 15 15"><circle cx="6.2" cy="6.2" r="3.1" fill="none" stroke="#000" stroke-width="1.5"/><path d="M8.7 8.7 L12.1 11.9" stroke="#000" stroke-width="1.7" stroke-linecap="round"/></svg>
<div style="left:573px;top:377px;width:12px;height:3px;background:#f2f2f2;"></div>
<div style="left:573px;top:394px;width:12px;height:3px;background:#f2f2f2;"></div>
<div style="left:588px;top:377px;width:12px;height:3px;background:#f2f2f2;"></div>
<div style="left:588px;top:394px;width:12px;height:3px;background:#f2f2f2;"></div>
<div style="left:603px;top:377px;width:12px;height:3px;background:#f2f2f2;"></div>
<div style="left:603px;top:394px;width:12px;height:3px;background:#f2f2f2;"></div>
<div style="left:618px;top:377px;width:12px;height:3px;background:#f2f2f2;"></div>
<div style="left:618px;top:394px;width:12px;height:3px;background:#f2f2f2;"></div>
<div style="left:632px;top:376px;width:14px;height:22px;background:#f2f2f2;"></div>
<div class="c" style="left:632px;top:380px;width:14px;">+1</div>
<div style="left:647px;top:376px;width:14px;height:22px;background:#f2f2f2;"></div>
<div class="c" style="left:647px;top:380px;width:14px;">-1</div>
<div style="left:663px;top:377px;width:12px;height:3px;background:#f2f2f2;"></div>
<div style="left:663px;top:394px;width:12px;height:3px;background:#f2f2f2;"></div>
<div style="left:678px;top:377px;width:12px;height:3px;background:#f2f2f2;"></div>
<div style="left:678px;top:394px;width:12px;height:3px;background:#f2f2f2;"></div>
<div style="left:693px;top:377px;width:12px;height:3px;background:#f2f2f2;"></div>
<div style="left:693px;top:394px;width:12px;height:3px;background:#f2f2f2;"></div>
<div style="left:708px;top:377px;width:12px;height:1px;background:#f2f2f2;"></div>
<div style="left:708px;top:396px;width:12px;height:1px;background:#f2f2f2;"></div>
<div style="left:707px;top:379px;width:14px;height:16px;background:#fee5d9;box-sizing:border-box;border:1px solid #000;"></div>
<div style="left:723px;top:377px;width:12px;height:3px;background:#f2f2f2;"></div>
<div style="left:723px;top:394px;width:12px;height:3px;background:#f2f2f2;"></div>
<div style="left:738px;top:377px;width:12px;height:3px;background:#f2f2f2;"></div>
<div style="left:738px;top:394px;width:12px;height:3px;background:#f2f2f2;"></div>
<div style="left:753px;top:377px;width:12px;height:3px;background:#f2f2f2;"></div>
<div style="left:753px;top:394px;width:12px;height:3px;background:#f2f2f2;"></div>
<div style="left:767px;top:376px;width:14px;height:22px;background:#f2f2f2;"></div>
<div class="c" style="left:767px;top:380px;width:14px;">+2</div>
<div style="left:783px;top:377px;width:12px;height:3px;background:#f2f2f2;"></div>
<div style="left:783px;top:394px;width:12px;height:3px;background:#f2f2f2;"></div>
<div style="left:798px;top:377px;width:12px;height:3px;background:#f2f2f2;"></div>
<div style="left:798px;top:394px;width:12px;height:3px;background:#f2f2f2;"></div>
<div style="left:813px;top:377px;width:12px;height:3px;background:#f2f2f2;"></div>
<div style="left:813px;top:394px;width:12px;height:3px;background:#f2f2f2;"></div>
<div style="left:828px;top:377px;width:12px;height:3px;background:#f2f2f2;"></div>
<div style="left:828px;top:394px;width:12px;height:3px;background:#f2f2f2;"></div>
<div style="left:842px;top:376px;width:14px;height:22px;background:#f2f2f2;"></div>
<div class="c" style="left:842px;top:380px;width:14px;">+1</div>
<div style="left:858px;top:377px;width:12px;height:3px;background:#f2f2f2;"></div>
<div style="left:858px;top:394px;width:12px;height:3px;background:#f2f2f2;"></div>
<div style="left:873px;top:377px;width:12px;height:3px;background:#f2f2f2;"></div>
<div style="left:873px;top:394px;width:12px;height:3px;background:#f2f2f2;"></div>
<div style="left:887px;top:376px;width:14px;height:22px;background:#f2f2f2;"></div>
<div class="c" style="left:887px;top:380px;width:14px;">+1</div>
<div style="left:902px;top:376px;width:14px;height:22px;background:#f2f2f2;"></div>
<div class="c" style="left:902px;top:380px;width:14px;">-1</div>
<div style="left:918px;top:377px;width:12px;height:3px;background:#f2f2f2;"></div>
<div style="left:918px;top:394px;width:12px;height:3px;background:#f2f2f2;"></div>
<div style="left:932px;top:376px;width:14px;height:22px;background:#f2f2f2;"></div>
<div class="c" style="left:932px;top:380px;width:14px;">+5</div>
<div style="left:947px;top:376px;width:14px;height:22px;background:#f2f2f2;"></div>
<div class="c" style="left:947px;top:380px;width:14px;">+1</div>
<div style="left:963px;top:377px;width:12px;height:3px;background:#f2f2f2;"></div>
<div style="left:963px;top:394px;width:12px;height:3px;background:#f2f2f2;"></div>
<div style="left:977px;top:376px;width:14px;height:22px;background:#f2f2f2;"></div>
<div class="c" style="left:977px;top:380px;width:14px;">+3</div>
<div class="t" style="left:33px;top:403px;width:54px;">T_55421</div>
<div class="t" style="left:89px;top:403px;width:99px;">Кодзоков</div>
<div class="t" style="left:291px;top:403px;width:99px;">Circassia</div>
<div class="t" style="left:392px;top:403px;width:58px;">J-Y26650</div>
<div class="t" style="left:452px;top:403px;width:28px;">16.5</div>
<div class="t" style="left:482px;top:403px;width:28px;">-84</div>
<div class="t" style="left:512px;top:403px;width:28px;">70%</div>
<div class="t" style="left:542px;top:403px;width:28px;">93%</div>
<div style="left:3px;top:403px;width:13px;height:13px;box-sizing:border-box;border:1px solid #767676;background:#fff;"></div>
<svg style="left:3px;top:403px" width="13" height="13" viewBox="0 0 13 13"><path d="M2.2 6.2 L5.2 9.1 L10.7 3.4" fill="none" stroke="#222" stroke-width="1.3"/></svg>
<svg style="left:16px;top:406px" width="15" height="15" viewBox="0 0 15 15"><circle cx="6.2" cy="6.2" r="3.1" fill="none" stroke="#000" stroke-width="1.5"/><path d="M8.7 8.7 L12.1 11.9" stroke="#000" stroke-width="1.7" stroke-linecap="round"/></svg>
<div class="c" style="left:632px;top:403px;width:14px;">+1</div>
<div class="c" style="left:647px;top:403px;width:14px;">-1</div>
<div class="c" style="left:707px;top:403px;width:14px;">+1</div>
<div style="left:767px;top:402px;width:14px;height:16px;background:#fcae91;box-sizing:border-box;border:1px solid #000;"></div>
<div class="c" style="left:842px;top:403px;width:14px;">+1</div>
<div class="c" style="left:857px;top:403px;width:14px;">+1</div>
<div class="c" style="left:887px;top:403px;width:14px;">+1</div>
<div class="c" style="left:902px;top:403px;width:14px;">-1</div>
<div class="c" style="left:932px;top:403px;width:14px;">+5</div>
<div style="left:947px;top:402px;width:14px;height:16px;background:#fee5d9;box-sizing:border-box;border:1px solid #000;"></div>
<div class="c" style="left:977px;top:403px;width:14px;">+5</div>
<div style="left:3px;top:423px;width:28px;height:20px;background:#f2f2f2;"></div>
<div style="left:34px;top:423px;width:53px;height:20px;background:#f2f2f2;"></div>
<div style="left:90px;top:423px;width:98px;height:20px;background:#f2f2f2;"></div>
<div style="left:191px;top:423px;width:98px;height:20px;background:#f2f2f2;"></div>
<div style="left:292px;top:423px;width:98px;height:20px;background:#f2f2f2;"></div>
<div style="left:393px;top:423px;width:57px;height:20px;background:#f2f2f2;"></div>
<div style="left:453px;top:423px;width:27px;height:20px;background:#f2f2f2;"></div>
<div style="left:483px;top:423px;width:27px;height:20px;background:#f2f2f2;"></div>
<div style="left:513px;top:423px;width:27px;height:20px;background:#f2f2f2;"></div>
<div style="left:543px;top:423px;width:27px;height:20px;background:#f2f2f2;"></div>
<div style="left:17px;top:429px;width:14px;height:14px;background:#fff;"></div>
<div style="left:2px;top:425px;width:15px;height:15px;background:#fff;"></div>
<div class="t" style="left:33px;top:426px;width:54px;">T_BP16253</div>
<div class="t" style="left:89px;top:426px;width:99px;">Kolbaia</div>
<div class="t" style="left:190px;top:426px;width:99px;">Kolbaia: Georgia, Gali</div>
<div class="t" style="left:291px;top:426px;width:99px;">Georgia</div>
<div class="t" style="left:392px;top:426px;width:58px;">J-M172</div>
<div class="t" style="left:452px;top:426px;width:28px;">16</div>
<div class="t" style="left:482px;top:426px;width:28px;">-84</div>
<div class="t" style="left:512px;top:426px;width:28px;">70%</div>
<div class="t" style="left:542px;top:426px;width:28px;">93%</div>
<div style="left:3px;top:426px;width:13px;height:13px;box-sizing:border-box;border:1px solid #767676;background:#fff;"></div>
<svg style="left:3px;top:426px" width="13" height="13" viewBox="0 0 13 13"><path d="M2.2 6.2 L5.2 9.1 L10.7 3.4" fill="none" stroke="#222" stroke-width="1.3"/></svg>
<svg style="left:16px;top:429px" width="15" height="15" viewBox="0 0 15 15"><circle cx="6.2" cy="6.2" r="3.1" fill="none" stroke="#000" stroke-width="1.5"/><path d="M8.7 8.7 L12.1 11.9" stroke="#000" stroke-width="1.7" stroke-linecap="round"/></svg>
<div style="left:573px;top:423px;width:12px;height:3px;background:#f2f2f2;"></div>
<div style="left:573px;top:440px;width:12px;height:3px;background:#f2f2f2;"></div>
<div style="left:588px;top:423px;width:12px;height:3px;background:#f2f2f2;"></div>
<div style="left:588px;top:440px;width:12px;height:3px;background:#f2f2f2;"></div>
<div style="left:603px;top:423px;width:12px;height:3px;background:#f2f2f2;"></div>
<div style="left:603px;top:440px;width:12px;height:3px;background:#f2f2f2;"></div>
<div style="left:618px;top:423px;width:12px;height:3px;background:#f2f2f2;"></div>
<div style="left:618px;top:440px;width:12px;height:3px;background:#f2f2f2;"></div>
<div style="left:633px;top:423px;width:12px;height:1px;background:#f2f2f2;"></div>
<div style="left:633px;top:442px;width:12px;height:1px;background:#f2f2f2;"></div>
<div style="left:632px;top:425px;width:14px;height:16px;background:#fb6a4a;box-sizing:border-box;border:1px solid #000;"></div>
<div style="left:647px;top:422px;width:14px;height:22px;background:#f2f2f2;"></div>
<div class="c" style="left:647px;top:426px;width:14px;">-1</div>
<div style="left:662px;top:422px;width:14px;height:22px;background:#f2f2f2;"></div>
<div class="c" style="left:662px;top:426px;width:14px;">+1</div>
<div style="left:678px;top:423px;width:12px;height:3px;background:#f2f2f2;"></div>
<div style="left:678px;top:440px;width:12px;height:3px;background:#f2f2f2;"></div>
<div style="left:692px;top:422px;width:14px;height:22px;background:#f2f2f2;"></div>
<div class="c" style="left:692px;top:426px;width:14px;">+1</div>
<div style="left:707px;top:422px;width:14px;height:22px;background:#f2f2f2;"></div>
<div class="c" style="left:707px;top:426px;width:14px;">+1</div>
<div style="left:723px;top:423px;width:12px;height:3px;background:#f2f2f2;"></div>
<div style="left:723px;top:440px;width:12px;height:3px;background:#f2f2f2;"></div>
<div style="left:737px;top:422px;width:14px;height:22px;background:#f2f2f2;"></div>
<div class="c" style="left:737px;top:426px;width:14px;">-1</div>
<div style="left:753px;top:423px;width:12px;height:3px;background:#f2f2f2;"></div>
<div style="left:753px;top:440px;width:12px;height:3px;background:#f2f2f2;"></div>
<div style="left:767px;top:422px;width:14px;height:22px;background:#f2f2f2;"></div>
<div class="c" style="left:767px;top:426px;width:14px;">+1</div>
<div style="left:783px;top:423px;width:12px;height:3px;background:#f2f2f2;"></div>
<div style="left:783px;top:440px;width:12px;height:3px;background:#f2f2f2;"></div>
<div style="left:798px;top:423px;width:12px;height:3px;background:#f2f2f2;"></div>
<div style="left:798px;top:440px;width:12px;height:3px;background:#f2f2f2;"></div>
<div style="left:813px;top:423px;width:12px;height:3px;background:#f2f2f2;"></div>
<div style="left:813px;top:440px;width:12px;height:3px;background:#f2f2f2;"></div>
<div style="left:828px;top:423px;width:12px;height:3px;background:#f2f2f2;"></div>
<div style="left:828px;top:440px;width:12px;height:3px;background:#f2f2f2;"></div>
<div style="left:843px;top:423px;width:12px;height:1px;background:#f2f2f2;"></div>
<div style="left:843px;top:442px;width:12px;height:1px;background:#f2f2f2;"></div>
<div style="left:842px;top:425px;width:14px;height:16px;background:#fcae91;box-sizing:border-box;border:1px solid #000;"></div>
<div style="left:858px;top:423px;width:12px;height:3px;background:#f2f2f2;"></div>
<div style="left:858px;top:440px;width:12px;height:3px;background:#f2f2f2;"></div>
<div style="left:873px;top:423px;width:12px;height:3px;background:#f2f2f2;"></div>
<div style="left:873px;top:440px;width:12px;height:3px;background:#f2f2f2;"></div>
<div style="left:888px;top:423px;width:12px;height:3px;background:#f2f2f2;"></div>
<div style="left:888px;top:440px;width:12px;height:3px;background:#f2f2f2;"></div>
<div style="left:903px;top:423px;width:12px;height:1px;background:#f2f2f2;"></div>
<div style="left:903px;top:442px;width:12px;height:1px;background:#f2f2f2;"></div>
<div style="left:902px;top:425px;width:14px;height:16px;background:#fee5d9;box-sizing:border-box;border:1px solid #000;"></div>
<div style="left:917px;top:422px;width:14px;height:22px;background:#f2f2f2;"></div>
<div class="c" style="left:917px;top:426px;width:14px;">+1</div>
<div style="left:932px;top:422px;width:14px;height:22px;background:#f2f2f2;"></div>
<div class="c" style="left:932px;top:426px;width:14px;">+5</div>
<div style="left:948px;top:423px;width:12px;height:1px;background:#f2f2f2;"></div>
<div style="left:948px;top:442px;width:12px;height:1px;background:#f2f2f2;"></div>
<div style="left:947px;top:425px;width:14px;height:16px;background:#fee5d9;box-sizing:border-box;border:1px solid #000;"></div>
<div style="left:963px;top:423px;width:12px;height:3px;background:#f2f2f2;"></div>
<div style="left:963px;top:440px;width:12px;height:3px;background:#f2f2f2;"></div>
<div style="left:977px;top:422px;width:14px;height:22px;background:#f2f2f2;"></div>
<div class="c" style="left:977px;top:426px;width:14px;">+4</div>
<div class="t" style="left:33px;top:449px;width:54px;">T_SI11234</div>
<div class="t" style="left:89px;top:449px;width:99px;">Hadji-Murat Beslen…</div>
<div class="t" style="left:291px;top:449px;width:99px;">Circassia</div>
<div class="t" style="left:392px;top:449px;width:58px;">J-Y523125</div>
<div class="t" style="left:452px;top:449px;width:28px;">15</div>
<div class="t" style="left:482px;top:449px;width:28px;">-87</div>
<div class="t" style="left:512px;top:449px;width:28px;">67%</div>
<div class="t" style="left:542px;top:449px;width:28px;">87%</div>
<div style="left:3px;top:449px;width:13px;height:13px;box-sizing:border-box;border:1px solid #767676;background:#fff;"></div>
<svg style="left:3px;top:449px" width="13" height="13" viewBox="0 0 13 13"><path d="M2.2 6.2 L5.2 9.1 L10.7 3.4" fill="none" stroke="#222" stroke-width="1.3"/></svg>
<svg style="left:16px;top:452px" width="15" height="15" viewBox="0 0 15 15"><circle cx="6.2" cy="6.2" r="3.1" fill="none" stroke="#000" stroke-width="1.5"/><path d="M8.7 8.7 L12.1 11.9" stroke="#000" stroke-width="1.7" stroke-linecap="round"/></svg>
<div class="c" style="left:632px;top:449px;width:14px;">+2</div>
<div class="c" style="left:647px;top:449px;width:14px;">-1</div>
<div class="c" style="left:662px;top:449px;width:14px;">-1</div>
<div style="left:707px;top:448px;width:14px;height:16px;background:#fee5d9;box-sizing:border-box;border:1px solid #000;"></div>
<div class="c" style="left:752px;top:449px;width:14px;">+1</div>
<div class="c" style="left:767px;top:449px;width:14px;">+1</div>
<div class="c" style="left:782px;top:449px;width:14px;">-1</div>
<div class="c" style="left:842px;top:449px;width:14px;">+2</div>
<div class="c" style="left:902px;top:449px;width:14px;">-2</div>
<div style="left:932px;top:448px;width:14px;height:16px;background:#fcae91;box-sizing:border-box;border:1px solid #000;"></div>
<div class="c" style="left:947px;top:449px;width:14px;">+3</div>
<div class="c" style="left:977px;top:449px;width:14px;">+1</div>
<div style="left:3px;top:469px;width:28px;height:20px;background:#f2f2f2;"></div>
<div style="left:34px;top:469px;width:53px;height:20px;background:#f2f2f2;"></div>
<div style="left:90px;top:469px;width:98px;height:20px;background:#f2f2f2;"></div>
<div style="left:191px;top:469px;width:98px;height:20px;background:#f2f2f2;"></div>
<div style="left:292px;top:469px;width:98px;height:20px;background:#f2f2f2;"></div>
<div style="left:393px;top:469px;width:57px;height:20px;background:#f2f2f2;"></div>
<div style="left:453px;top:469px;width:27px;height:20px;background:#f2f2f2;"></div>
<div style="left:483px;top:469px;width:27px;height:20px;background:#f2f2f2;"></div>
<div style="left:513px;top:469px;width:27px;height:20px;background:#f2f2f2;"></div>
<div style="left:543px;top:469px;width:27px;height:20px;background:#f2f2f2;"></div>
<div style="left:17px;top:475px;width:14px;height:14px;background:#fff;"></div>
<div style="left:2px;top:471px;width:15px;height:15px;background:#fff;"></div>
<div class="t" style="left:33px;top:472px;width:54px;">T_66323</div>
<div class="t" style="left:89px;top:472px;width:99px;">Хапсироков</div>
<div class="t" style="left:291px;top:472px;width:99px;">Circassia</div>
<div class="t" style="left:392px;top:472px;width:58px;">J-Y156116</div>
<div class="t" style="left:452px;top:472px;width:28px;">19</div>
<div class="t" style="left:482px;top:472px;width:28px;">-88</div>
<div class="t" style="left:512px;top:472px;width:28px;">80%</div>
<div class="t" style="left:542px;top:472px;width:28px;">87%</div>
<div style="left:3px;top:472px;width:13px;height:13px;box-sizing:border-box;border:1px solid #767676;background:#fff;"></div>
<svg style="left:3px;top:472px" width="13" height="13" viewBox="0 0 13 13"><path d="M2.2 6.2 L5.2 9.1 L10.7 3.4" fill="none" stroke="#222" stroke-width="1.3"/></svg>
<svg style="left:16px;top:475px" width="15" height="15" viewBox="0 0 15 15"><circle cx="6.2" cy="6.2" r="3.1" fill="none" stroke="#000" stroke-width="1.5"/><path d="M8.7 8.7 L12.1 11.9" stroke="#000" stroke-width="1.7" stroke-linecap="round"/></svg>
<div style="left:573px;top:469px;width:12px;height:3px;background:#f2f2f2;"></div>
<div style="left:573px;top:486px;width:12px;height:3px;background:#f2f2f2;"></div>
<div style="left:588px;top:469px;width:12px;height:3px;background:#f2f2f2;"></div>
<div style="left:588px;top:486px;width:12px;height:3px;background:#f2f2f2;"></div>
<div style="left:603px;top:469px;width:12px;height:3px;background:#f2f2f2;"></div>
<div style="left:603px;top:486px;width:12px;height:3px;background:#f2f2f2;"></div>
<div style="left:618px;top:469px;width:12px;height:3px;background:#f2f2f2;"></div>
<div style="left:618px;top:486px;width:12px;height:3px;background:#f2f2f2;"></div>
<div style="left:633px;top:469px;width:12px;height:1px;background:#f2f2f2;"></div>
<div style="left:633px;top:488px;width:12px;height:1px;background:#f2f2f2;"></div>
<div style="left:632px;top:471px;width:14px;height:16px;background:#fb6a4a;box-sizing:border-box;border:1px solid #000;"></div>
<div style="left:648px;top:469px;width:12px;height:1px;background:#f2f2f2;"></div>
<div style="left:648px;top:488px;width:12px;height:1px;background:#f2f2f2;"></div>
<div style="left:647px;top:471px;width:14px;height:16px;background:#de2d26;box-sizing:border-box;border:1px solid #000;"></div>
<div style="left:663px;top:469px;width:12px;height:3px;background:#f2f2f2;"></div>
<div style="left:663px;top:486px;width:12px;height:3px;background:#f2f2f2;"></div>
<div style="left:678px;top:469px;width:12px;height:3px;background:#f2f2f2;"></div>
<div style="left:678px;top:486px;width:12px;height:3px;background:#f2f2f2;"></div>
<div style="left:693px;top:469px;width:12px;height:3px;background:#f2f2f2;"></div>
<div style="left:693px;top:486px;width:12px;height:3px;background:#f2f2f2;"></div>
<div style="left:707px;top:468px;width:14px;height:22px;background:#f2f2f2;"></div>
<div class="c" style="left:707px;top:472px;width:14px;">+1</div>
<div style="left:723px;top:469px;width:12px;height:3px;background:#f2f2f2;"></div>
<div style="left:723px;top:486px;width:12px;height:3px;background:#f2f2f2;"></div>
<div style="left:738px;top:469px;width:12px;height:3px;background:#f2f2f2;"></div>
<div style="left:738px;top:486px;width:12px;height:3px;background:#f2f2f2;"></div>
<div style="left:752px;top:468px;width:14px;height:22px;background:#f2f2f2;"></div>
<div class="c" style="left:752px;top:472px;width:14px;">+2</div>
<div style="left:768px;top:469px;width:12px;height:1px;background:#f2f2f2;"></div>
<div style="left:768px;top:488px;width:12px;height:1px;background:#f2f2f2;"></div>
<div style="left:767px;top:471px;width:14px;height:16px;background:#fcae91;box-sizing:border-box;border:1px solid #000;"></div>
<div style="left:783px;top:469px;width:12px;height:3px;background:#f2f2f2;"></div>
<div style="left:783px;top:486px;width:12px;height:3px;background:#f2f2f2;"></div>
<div style="left:798px;top:469px;width:12px;height:3px;background:#f2f2f2;"></div>
<div style="left:798px;top:486px;width:12px;height:3px;background:#f2f2f2;"></div>
<div style="left:812px;top:468px;width:14px;height:22px;background:#f2f2f2;"></div>
<div class="c" style="left:812px;top:472px;width:14px;">-1</div>
<div style="left:828px;top:469px;width:12px;height:3px;background:#f2f2f2;"></div>
<div style="left:828px;top:486px;width:12px;height:3px;background:#f2f2f2;"></div>
<div style="left:843px;top:469px;width:12px;height:1px;background:#f2f2f2;"></div>
<div style="left:843px;top:488px;width:12px;height:1px;background:#f2f2f2;"></div>
<div style="left:842px;top:471px;width:14px;height:16px;background:#fcae91;box-sizing:border-box;border:1px solid #000;"></div>
<div style="left:858px;top:469px;width:12px;height:3px;background:#f2f2f2;"></div>
<div style="left:858px;top:486px;width:12px;height:3px;background:#f2f2f2;"></div>
<div style="left:873px;top:469px;width:12px;height:3px;background:#f2f2f2;"></div>
<div style="left:873px;top:486px;width:12px;height:3px;background:#f2f2f2;"></div>
<div style="left:888px;top:469px;width:12px;height:3px;background:#f2f2f2;"></div>
<div style="left:888px;top:486px;width:12px;height:3px;background:#f2f2f2;"></div>
<div style="left:903px;top:469px;width:12px;height:1px;background:#f2f2f2;"></div>
<div style="left:903px;top:488px;width:12px;height:1px;background:#f2f2f2;"></div>
<div style="left:902px;top:471px;width:14px;height:16px;background:#fee5d9;box-sizing:border-box;border:1px solid #000;"></div>
<div style="left:918px;top:469px;width:12px;height:3px;background:#f2f2f2;"></div>
<div style="left:918px;top:486px;width:12px;height:3px;background:#f2f2f2;"></div>
<div style="left:932px;top:468px;width:14px;height:22px;background:#f2f2f2;"></div>
<div class="c" style="left:932px;top:472px;width:14px;">+5</div>
<div style="left:947px;top:468px;width:14px;height:22px;background:#f2f2f2;"></div>
<div class="c" style="left:947px;top:472px;width:14px;">+2</div>
<div style="left:963px;top:469px;width:12px;height:3px;background:#f2f2f2;"></div>
<div style="left:963px;top:486px;width:12px;height:3px;background:#f2f2f2;"></div>
<div style="left:977px;top:468px;width:14px;height:22px;background:#f2f2f2;"></div>
<div class="c" style="left:977px;top:472px;width:14px;">+8</div>
<div class="t" style="left:33px;top:495px;width:54px;">T_SI16359</div>
<div class="t" style="left:89px;top:495px;width:99px;">Onat</div>
<div class="t" style="left:190px;top:495px;width:99px;">Hamzaoglu/Hamizant</div>
<div class="t" style="left:291px;top:495px;width:99px;">Turkey</div>
<div class="t" style="left:392px;top:495px;width:58px;">J-Z38214</div>
<div class="t" style="left:452px;top:495px;width:28px;">17</div>
<div class="t" style="left:482px;top:495px;width:28px;">-89</div>
<div class="t" style="left:512px;top:495px;width:28px;">60%</div>
<div class="t" style="left:542px;top:495px;width:28px;">90%</div>
<div style="left:3px;top:495px;width:13px;height:13px;box-sizing:border-box;border:1px solid #767676;background:#fff;"></div>
<svg style="left:3px;top:495px" width="13" height="13" viewBox="0 0 13 13"><path d="M2.2 6.2 L5.2 9.1 L10.7 3.4" fill="none" stroke="#222" stroke-width="1.3"/></svg>
<svg style="left:16px;top:498px" width="15" height="15" viewBox="0 0 15 15"><circle cx="6.2" cy="6.2" r="3.1" fill="none" stroke="#000" stroke-width="1.5"/><path d="M8.7 8.7 L12.1 11.9" stroke="#000" stroke-width="1.7" stroke-linecap="round"/></svg>
<div class="c" style="left:632px;top:495px;width:14px;">+1</div>
<div class="c" style="left:647px;top:495px;width:14px;">-1</div>
<div class="c" style="left:707px;top:495px;width:14px;">+1</div>
<div class="c" style="left:752px;top:495px;width:14px;">+1</div>
<div class="c" style="left:767px;top:495px;width:14px;">+1</div>
<div class="c" style="left:842px;top:495px;width:14px;">+1</div>
<div class="c" style="left:872px;top:495px;width:14px;">-1</div>
<div class="c" style="left:902px;top:495px;width:14px;">-2</div>
<div class="c" style="left:917px;top:495px;width:14px;">-1</div>
<div style="left:932px;top:494px;width:14px;height:16px;background:#fcae91;box-sizing:border-box;border:1px solid #000;"></div>
<div class="c" style="left:947px;top:495px;width:14px;">+2</div>
<div class="c" style="left:962px;top:495px;width:14px;">+1</div>
<div class="c" style="left:977px;top:495px;width:14px;">+4</div>
<div style="left:3px;top:515px;width:28px;height:20px;background:#f2f2f2;"></div>
<div style="left:34px;top:515px;width:53px;height:20px;background:#f2f2f2;"></div>
<div style="left:90px;top:515px;width:98px;height:20px;background:#f2f2f2;"></div>
<div style="left:191px;top:515px;width:98px;height:20px;background:#f2f2f2;"></div>
<div style="left:292px;top:515px;width:98px;height:20px;background:#f2f2f2;"></div>
<div style="left:393px;top:515px;width:57px;height:20px;background:#f2f2f2;"></div>
<div style="left:453px;top:515px;width:27px;height:20px;background:#f2f2f2;"></div>
<div style="left:483px;top:515px;width:27px;height:20px;background:#f2f2f2;"></div>
<div style="left:513px;top:515px;width:27px;height:20px;background:#f2f2f2;"></div>
<div style="left:543px;top:515px;width:27px;height:20px;background:#f2f2f2;"></div>
<div style="left:17px;top:521px;width:14px;height:14px;background:#fff;"></div>
<div style="left:2px;top:517px;width:15px;height:15px;background:#fff;"></div>
<div class="t" style="left:33px;top:518px;width:54px;">T_BP67454</div>
<div class="t" style="left:89px;top:518px;width:99px;">Oscan</div>
<div class="t" style="left:190px;top:518px;width:99px;">Ешъуталъэ, Shaps…</div>
<div class="t" style="left:291px;top:518px;width:99px;">Circassia</div>
<div class="t" style="left:392px;top:518px;width:58px;">J-SK1320</div>
<div class="t" style="left:452px;top:518px;width:28px;">16</div>
<div class="t" style="left:482px;top:518px;width:28px;">-90</div>
<div class="t" style="left:512px;top:518px;width:28px;">63%</div>
<div class="t" style="left:542px;top:518px;width:28px;">87%</div>
<div style="left:3px;top:518px;width:13px;height:13px;box-sizing:border-box;border:1px solid #767676;background:#fff;"></div>
<svg style="left:3px;top:518px" width="13" height="13" viewBox="0 0 13 13"><path d="M2.2 6.2 L5.2 9.1 L10.7 3.4" fill="none" stroke="#222" stroke-width="1.3"/></svg>
<svg style="left:16px;top:521px" width="15" height="15" viewBox="0 0 15 15"><circle cx="6.2" cy="6.2" r="3.1" fill="none" stroke="#000" stroke-width="1.5"/><path d="M8.7 8.7 L12.1 11.9" stroke="#000" stroke-width="1.7" stroke-linecap="round"/></svg>
<div style="left:573px;top:515px;width:12px;height:3px;background:#f2f2f2;"></div>
<div style="left:573px;top:532px;width:12px;height:3px;background:#f2f2f2;"></div>
<div style="left:588px;top:515px;width:12px;height:3px;background:#f2f2f2;"></div>
<div style="left:588px;top:532px;width:12px;height:3px;background:#f2f2f2;"></div>
<div style="left:603px;top:515px;width:12px;height:3px;background:#f2f2f2;"></div>
<div style="left:603px;top:532px;width:12px;height:3px;background:#f2f2f2;"></div>
<div style="left:617px;top:514px;width:14px;height:22px;background:#f2f2f2;"></div>
<div class="c" style="left:617px;top:518px;width:14px;">-1</div>
<div style="left:632px;top:514px;width:14px;height:22px;background:#f2f2f2;"></div>
<div class="c" style="left:632px;top:518px;width:14px;">+2</div>
<div style="left:647px;top:514px;width:14px;height:22px;background:#f2f2f2;"></div>
<div class="c" style="left:647px;top:518px;width:14px;">-1</div>
<div style="left:663px;top:515px;width:12px;height:3px;background:#f2f2f2;"></div>
<div style="left:663px;top:532px;width:12px;height:3px;background:#f2f2f2;"></div>
<div style="left:678px;top:515px;width:12px;height:3px;background:#f2f2f2;"></div>
<div style="left:678px;top:532px;width:12px;height:3px;background:#f2f2f2;"></div>
<div style="left:693px;top:515px;width:12px;height:3px;background:#f2f2f2;"></div>
<div style="left:693px;top:532px;width:12px;height:3px;background:#f2f2f2;"></div>
<div style="left:707px;top:514px;width:14px;height:22px;background:#f2f2f2;"></div>
<div class="c" style="left:707px;top:518px;width:14px;">+2</div>
<div style="left:723px;top:515px;width:12px;height:3px;background:#f2f2f2;"></div>
<div style="left:723px;top:532px;width:12px;height:3px;background:#f2f2f2;"></div>
<div style="left:738px;top:515px;width:12px;height:3px;background:#f2f2f2;"></div>
<div style="left:738px;top:532px;width:12px;height:3px;background:#f2f2f2;"></div>
<div style="left:753px;top:515px;width:12px;height:3px;background:#f2f2f2;"></div>
<div style="left:753px;top:532px;width:12px;height:3px;background:#f2f2f2;"></div>
<div style="left:767px;top:514px;width:14px;height:22px;background:#f2f2f2;"></div>
<div class="c" style="left:767px;top:518px;width:14px;">+1</div>
<div style="left:782px;top:514px;width:14px;height:22px;background:#f2f2f2;"></div>
<div class="c" style="left:782px;top:518px;width:14px;">-1</div>
<div style="left:798px;top:515px;width:12px;height:3px;background:#f2f2f2;"></div>
<div style="left:798px;top:532px;width:12px;height:3px;background:#f2f2f2;"></div>
<div style="left:813px;top:515px;width:12px;height:3px;background:#f2f2f2;"></div>
<div style="left:813px;top:532px;width:12px;height:3px;background:#f2f2f2;"></div>
<div style="left:828px;top:515px;width:12px;height:3px;background:#f2f2f2;"></div>
<div style="left:828px;top:532px;width:12px;height:3px;background:#f2f2f2;"></div>
<div style="left:843px;top:515px;width:12px;height:1px;background:#f2f2f2;"></div>
<div style="left:843px;top:534px;width:12px;height:1px;background:#f2f2f2;"></div>
<div style="left:842px;top:517px;width:14px;height:16px;background:#fcae91;box-sizing:border-box;border:1px solid #000;"></div>
<div style="left:857px;top:514px;width:14px;height:22px;background:#f2f2f2;"></div>
<div class="c" style="left:857px;top:518px;width:14px;">+1</div>
<div style="left:872px;top:514px;width:14px;height:22px;background:#f2f2f2;"></div>
<div class="c" style="left:872px;top:518px;width:14px;">-1</div>
<div style="left:888px;top:515px;width:12px;height:3px;background:#f2f2f2;"></div>
<div style="left:888px;top:532px;width:12px;height:3px;background:#f2f2f2;"></div>
<div style="left:903px;top:515px;width:12px;height:1px;background:#f2f2f2;"></div>
<div style="left:903px;top:534px;width:12px;height:1px;background:#f2f2f2;"></div>
<div style="left:902px;top:517px;width:14px;height:16px;background:#fee5d9;box-sizing:border-box;border:1px solid #000;"></div>
<div style="left:917px;top:514px;width:14px;height:22px;background:#f2f2f2;"></div>
<div class="c" style="left:917px;top:518px;width:14px;">+1</div>
<div style="left:932px;top:514px;width:14px;height:22px;background:#f2f2f2;"></div>
<div class="c" style="left:932px;top:518px;width:14px;">+2</div>
<div style="left:948px;top:515px;width:12px;height:1px;background:#f2f2f2;"></div>
<div style="left:948px;top:534px;width:12px;height:1px;background:#f2f2f2;"></div>
<div style="left:947px;top:517px;width:14px;height:16px;background:#fee5d9;box-sizing:border-box;border:1px solid #000;"></div>
<div style="left:963px;top:515px;width:12px;height:3px;background:#f2f2f2;"></div>
<div style="left:963px;top:532px;width:12px;height:3px;background:#f2f2f2;"></div>
<div style="left:977px;top:514px;width:14px;height:22px;background:#f2f2f2;"></div>
<div class="c" style="left:977px;top:518px;width:14px;">+3</div>
<div class="t" style="left:33px;top:540px;width:54px;">T_IN139091</div>
<div class="t" style="left:89px;top:540px;width:99px;">Tvidzba</div>
<div class="t" style="left:190px;top:540px;width:99px;">Ҵәыӡба, Џьгьарда</div>
<div class="t" style="left:291px;top:540px;width:99px;">Abkhazia</div>
<div class="t" style="left:392px;top:540px;width:58px;">J-Y26654</div>
<div class="t" style="left:452px;top:540px;width:28px;">16</div>
<div class="t" style="left:482px;top:540px;width:28px;">-91</div>
<div class="t" style="left:512px;top:540px;width:28px;">67%</div>
<div class="t" style="left:542px;top:540px;width:28px;">90%</div>
<div style="left:3px;top:541px;width:13px;height:13px;box-sizing:border-box;border:1px solid #767676;background:#fff;"></div>
<svg style="left:3px;top:541px" width="13" height="13" viewBox="0 0 13 13"><path d="M2.2 6.2 L5.2 9.1 L10.7 3.4" fill="none" stroke="#222" stroke-width="1.3"/></svg>
<svg style="left:16px;top:543px" width="15" height="15" viewBox="0 0 15 15"><circle cx="6.2" cy="6.2" r="3.1" fill="none" stroke="#000" stroke-width="1.5"/><path d="M8.7 8.7 L12.1 11.9" stroke="#000" stroke-width="1.7" stroke-linecap="round"/></svg>
<div class="c" style="left:572px;top:540px;width:14px;">-1</div>
<div class="c" style="left:632px;top:540px;width:14px;">+1</div>
<div class="c" style="left:647px;top:540px;width:14px;">-1</div>
<div style="left:707px;top:539px;width:14px;height:17px;background:#fee5d9;box-sizing:border-box;border:1px solid #000;"></div>
<div class="c" style="left:767px;top:540px;width:14px;">+1</div>
<div class="c" style="left:782px;top:540px;width:14px;">-1</div>
<div class="c" style="left:842px;top:540px;width:14px;">+2</div>
<div class="c" style="left:887px;top:540px;width:14px;">-1</div>
<div class="c" style="left:902px;top:540px;width:14px;">-1</div>
<div class="c" style="left:932px;top:540px;width:14px;">+5</div>
<div style="left:947px;top:539px;width:14px;height:17px;background:#fee5d9;box-sizing:border-box;border:1px solid #000;"></div>
<div class="c" style="left:977px;top:540px;width:14px;">+2</div>
<div style="left:3px;top:560px;width:28px;height:4px;background:#f2f2f2;"></div>
<div style="left:34px;top:560px;width:53px;height:4px;background:#f2f2f2;"></div>
<div style="left:90px;top:560px;width:98px;height:4px;background:#f2f2f2;"></div>
<div style="left:191px;top:560px;width:98px;height:4px;background:#f2f2f2;"></div>
<div style="left:292px;top:560px;width:98px;height:4px;background:#f2f2f2;"></div>
<div style="left:393px;top:560px;width:57px;height:4px;background:#f2f2f2;"></div>
<div style="left:453px;top:560px;width:27px;height:4px;background:#f2f2f2;"></div>
<div style="left:483px;top:560px;width:27px;height:4px;background:#f2f2f2;"></div>
<div style="left:513px;top:560px;width:27px;height:4px;background:#f2f2f2;"></div>
<div style="left:543px;top:560px;width:27px;height:4px;background:#f2f2f2;"></div>
<div style="left:573px;top:560px;width:12px;height:3px;background:#f2f2f2;"></div>
<div style="left:588px;top:560px;width:12px;height:3px;background:#f2f2f2;"></div>
<div style="left:603px;top:560px;width:12px;height:3px;background:#f2f2f2;"></div>
<div style="left:618px;top:560px;width:12px;height:3px;background:#f2f2f2;"></div>
<div style="left:633px;top:560px;width:12px;height:3px;background:#f2f2f2;"></div>
<div style="left:648px;top:560px;width:12px;height:3px;background:#f2f2f2;"></div>
<div style="left:663px;top:560px;width:12px;height:3px;background:#f2f2f2;"></div>
<div style="left:678px;top:560px;width:12px;height:3px;background:#f2f2f2;"></div>
<div style="left:693px;top:560px;width:12px;height:3px;background:#f2f2f2;"></div>
<div style="left:708px;top:560px;width:12px;height:3px;background:#f2f2f2;"></div>
<div style="left:723px;top:560px;width:12px;height:3px;background:#f2f2f2;"></div>
<div style="left:738px;top:560px;width:12px;height:3px;background:#f2f2f2;"></div>
<div style="left:753px;top:560px;width:12px;height:3px;background:#f2f2f2;"></div>
<div style="left:768px;top:560px;width:12px;height:3px;background:#f2f2f2;"></div>
<div style="left:783px;top:560px;width:12px;height:3px;background:#f2f2f2;"></div>
<div style="left:798px;top:560px;width:12px;height:3px;background:#f2f2f2;"></div>
<div style="left:813px;top:560px;width:12px;height:3px;background:#f2f2f2;"></div>
<div style="left:828px;top:560px;width:12px;height:3px;background:#f2f2f2;"></div>
<div style="left:843px;top:560px;width:12px;height:3px;background:#f2f2f2;"></div>
<div style="left:858px;top:560px;width:12px;height:3px;background:#f2f2f2;"></div>
<div style="left:873px;top:560px;width:12px;height:3px;background:#f2f2f2;"></div>
<div style="left:888px;top:560px;width:12px;height:3px;background:#f2f2f2;"></div>
<div style="left:903px;top:560px;width:12px;height:3px;background:#f2f2f2;"></div>
<div style="left:918px;top:560px;width:12px;height:3px;background:#f2f2f2;"></div>
<div style="left:933px;top:560px;width:12px;height:3px;background:#f2f2f2;"></div>
<div style="left:948px;top:560px;width:12px;height:3px;background:#f2f2f2;"></div>
<div style="left:963px;top:560px;width:12px;height:3px;background:#f2f2f2;"></div>
<div style="left:978px;top:560px;width:12px;height:3px;background:#f2f2f2;"></div>
<div class="t" style="left:33px;top:142px;width:50px;">Query</div>
<div class="t" style="left:512px;top:142px;width:26px;">%</div>
<div class="t" style="left:542px;top:142px;width:26px;">%</div>
<div class="c" style="left:572px;top:142px;width:14px;">11</div>
<div class="c" style="left:587px;top:142px;width:14px;">9</div>
<div class="c" style="left:602px;top:142px;width:14px;">11</div>
<div class="c" style="left:617px;top:142px;width:14px;">16</div>
<div style="left:632px;top:142px;width:14px;height:14px;background:#fb6a4a;"></div>
<div class="c" style="left:632px;top:142px;width:14px;">10</div>
<div style="left:647px;top:142px;width:14px;height:14px;background:#de2d26;"></div>
<div class="c" style="left:647px;top:142px;width:14px;">13</div>
<div class="c" style="left:662px;top:142px;width:14px;">10</div>
<div class="c" style="left:677px;top:142px;width:14px;">10</div>
<div class="c" style="left:692px;top:135px;width:14px;">19</div>
<div class="c" style="left:692px;top:149px;width:14px;">22</div>
<div style="left:707px;top:128px;width:14px;height:43px;background:#fee5d9;"></div>
<div class="c" style="left:707px;top:128px;width:14px;">9</div>
<div class="c" style="left:707px;top:142px;width:14px;">9</div>
<div class="c" style="left:707px;top:156.2px;width:14px;">9</div>
<div class="c" style="left:722px;top:142px;width:14px;">14</div>
<div class="c" style="left:737px;top:142px;width:14px;">20</div>
<div class="c" style="left:752px;top:142px;width:14px;">15</div>
<div style="left:767px;top:135px;width:14px;height:28px;background:#fcae91;"></div>
<div class="c" style="left:767px;top:135px;width:14px;">14</div>
<div class="c" style="left:767px;top:149px;width:14px;">14</div>
<div class="c" style="left:782px;top:142px;width:14px;">11</div>
<div class="c" style="left:797px;top:142px;width:14px;">13</div>
<div class="c" style="left:812px;top:142px;width:14px;">15</div>
<div class="c" style="left:827px;top:142px;width:14px;">15</div>
<div style="left:842px;top:142px;width:14px;height:14px;background:#fcae91;"></div>
<div class="c" style="left:842px;top:142px;width:14px;">25</div>
<div class="c" style="left:857px;top:142px;width:14px;">14</div>
<div class="c" style="left:872px;top:142px;width:14px;">12</div>
<div class="c" style="left:887px;top:142px;width:14px;">25</div>
<div style="left:902px;top:142px;width:14px;height:14px;background:#fee5d9;"></div>
<div class="c" style="left:902px;top:142px;width:14px;">19</div>
<div class="c" style="left:917px;top:142px;width:14px;">17</div>
<div style="left:932px;top:106px;width:14px;height:86px;background:#fcae91;"></div>
<div class="c" style="left:932px;top:106.7px;width:14px;">13</div>
<div class="c" style="left:932px;top:120.99px;width:14px;">13</div>
<div class="c" style="left:932px;top:135.27px;width:14px;">16</div>
<div class="c" style="left:932px;top:149.56px;width:14px;">16</div>
<div class="c" style="left:932px;top:163.84px;width:14px;">16</div>
<div class="c" style="left:932px;top:178.13px;width:14px;">16</div>
<div style="left:947px;top:142px;width:14px;height:14px;background:#fee5d9;"></div>
<div class="c" style="left:947px;top:142px;width:14px;">16</div>
<div class="c" style="left:962px;top:142px;width:14px;">28</div>
<div style="left:977px;top:128px;width:14px;height:43px;background:#a50f15;"></div>
<div class="c" style="left:977px;top:128px;width:14px;">33</div>
<div class="c" style="left:977px;top:142px;width:14px;">36</div>
<div class="c" style="left:977px;top:156.2px;width:14px;">39</div>
<svg style="left:2px;top:45px" width="30" height="22" viewBox="0 0 30 22" fill="none" stroke-width="0.9"><path d="M0 0.5 H30" stroke="#e9e9e9"/><path d="M0 21.5 H30" stroke="#ececec"/><path d="M27 10.5 H30 V14 H27 Z" fill="#d3f3ef" stroke="none"/><g stroke="#ecb4eb"><path d="M12.5 5.5 V2.6 H14.5 V1.4 H30"/><path d="M14.5 3.2 H22.5 V1.4"/><path d="M12.5 5.5 H28 V4.4 H30"/><path d="M28 5.5 V6.4 H30"/></g><g stroke="#b4e9e3"><path d="M16.5 14.6 V11.4 H19 V9.4 H21 V8.2 H30"/><path d="M17.5 12.4 H24.5"/><path d="M21 9.6 H30"/><path d="M16.5 14.6 H30"/></g><g stroke="#bbbbff"><path d="M9.5 12.8 V4.4 H12.4"/><path d="M7.4 15.4 V8.4 H9.5"/><path d="M7.4 15.4 H30"/><path d="M3.4 17.4 V12 H7.4" stroke="#d5d5ff"/><path d="M3.4 17.4 H20"/><path d="M1.5 20.5 V14.4 H3.4"/><path d="M1.5 20.5 H6.2 V19.3 H13.5"/></g><path d="M9.5 12.8 H16.4" stroke="#dcdcff"/><path d="M20.2 16.9 H30" stroke="#ffb5a8" stroke-width="1.3"/><path d="M13.5 19.3 H30" stroke="#c9e5c9" stroke-width="1.7"/><path d="M6.2 20.9 H30" stroke="#d4d0f4"/></svg>
<div class="h" style="left:34px;width:53px;top:39px;">Kit<br>Number</div>
<div class="h" style="left:90px;width:98px;top:47px;">Name</div>
<div class="h" style="left:191px;width:98px;top:39px;">Paternal Ancestor<br>Name</div>
<div class="h" style="left:292px;width:98px;top:47px;">Country</div>
<div class="h" style="left:393px;width:57px;top:47px;">HG</div>
<div class="h" style="left:452px;width:27px;top:39px;text-align:left;">GD<br>(Abs)</div>
<div class="r" style="left:486.2px;top:94px;">Mutation Rate</div>
<div class="r" style="left:501.2px;top:69.5px;">Log Sum</div>
<div class="r" style="left:523.7px;top:88px;">Identical %</div>
<div class="r" style="left:554px;top:88px;letter-spacing:-0.15px;">Off by One%</div>
<div class="r" style="left:576.2px;top:81px;">DYS455</div>
<div class="r" style="left:591.2px;top:81px;">DYS438</div>
<div class="r" style="left:606.2px;top:81px;">DYS392</div>
<div class="r" style="left:621.2px;top:81px;">DYS437</div>
<div class="r" style="left:636.2px;top:81px;letter-spacing:0.2px;">Y-GATA-H4</div>
<div class="r" style="left:651.2px;top:81px;">DYS393</div>
<div class="r" style="left:666.2px;top:81px;">DYS442</div>
<div class="r" style="left:681.2px;top:81px;">DYS391</div>
<div class="r" style="left:696.2px;top:81px;">YCAII</div>
<div class="r" style="left:711.2px;top:81px;">DYS459</div>
<div class="r" style="left:726.2px;top:81px;">DYS19</div>
<div class="r" style="left:741.2px;top:81px;">DYS448</div>
<div class="r" style="left:756.2px;top:81px;">DYS388</div>
<div class="r" style="left:771.2px;top:81px;">DYS385</div>
<div class="r" style="left:786.2px;top:81px;">DYS460</div>
<div class="r" style="left:801.2px;top:81px;">DYS389i</div>
<div class="r" style="left:816.2px;top:81px;">DYS607</div>
<div class="r" style="left:831.2px;top:81px;">DYS456</div>
<div class="r" style="left:846.2px;top:81px;">DYS447</div>
<div class="r" style="left:861.2px;top:81px;">DYS570</div>
<div class="r" style="left:876.2px;top:81px;">DYS439</div>
<div class="r" style="left:891.2px;top:81px;">DYS390</div>
<div class="r" style="left:906.2px;top:81px;">DYS458</div>
<div class="r" style="left:921.2px;top:81px;letter-spacing:0.45px;">DYS389ii-i</div>
<div class="r" style="left:936.2px;top:81px;">DYS464</div>
<div class="r" style="left:951.2px;top:81px;">DYS576</div>
<div class="r" style="left:966.2px;top:81px;">DYS449</div>
<div class="r" style="left:981.2px;top:81px;">CDY</div>
<div style="left:1px;top:5px;width:1px;height:557px;background:#000;"></div>
<div style="left:32px;top:5px;width:1px;height:557px;background:#000;"></div>
<div style="left:88px;top:5px;width:1px;height:557px;background:#000;"></div>
<div style="left:189px;top:5px;width:1px;height:557px;background:#000;"></div>
<div style="left:290px;top:5px;width:1px;height:557px;background:#000;"></div>
<div style="left:391px;top:5px;width:1px;height:557px;background:#000;"></div>
<div style="left:451px;top:5px;width:1px;height:557px;background:#000;"></div>
<div style="left:481px;top:5px;width:1px;height:557px;background:#000;"></div>
<div style="left:511px;top:5px;width:1px;height:557px;background:#000;"></div>
<div style="left:541px;top:5px;width:1px;height:557px;background:#000;"></div>
<div style="left:571px;top:5px;width:1px;height:557px;background:#000;"></div>
<div style="left:586px;top:5px;width:1px;height:557px;background:#000;"></div>
<div style="left:601px;top:5px;width:1px;height:557px;background:#000;"></div>
<div style="left:616px;top:5px;width:1px;height:557px;background:#000;"></div>
<div style="left:631px;top:5px;width:1px;height:557px;background:#000;"></div>
<div style="left:646px;top:5px;width:1px;height:557px;background:#000;"></div>
<div style="left:661px;top:5px;width:1px;height:557px;background:#000;"></div>
<div style="left:676px;top:5px;width:1px;height:557px;background:#000;"></div>
<div style="left:691px;top:5px;width:1px;height:557px;background:#000;"></div>
<div style="left:706px;top:5px;width:1px;height:557px;background:#000;"></div>
<div style="left:721px;top:5px;width:1px;height:557px;background:#000;"></div>
<div style="left:736px;top:5px;width:1px;height:557px;background:#000;"></div>
<div style="left:751px;top:5px;width:1px;height:557px;background:#000;"></div>
<div style="left:766px;top:5px;width:1px;height:557px;background:#000;"></div>
<div style="left:781px;top:5px;width:1px;height:557px;background:#000;"></div>
<div style="left:796px;top:5px;width:1px;height:557px;background:#000;"></div>
<div style="left:811px;top:5px;width:1px;height:557px;background:#000;"></div>
<div style="left:826px;top:5px;width:1px;height:557px;background:#000;"></div>
<div style="left:841px;top:5px;width:1px;height:557px;background:#000;"></div>
<div style="left:856px;top:5px;width:1px;height:557px;background:#000;"></div>
<div style="left:871px;top:5px;width:1px;height:557px;background:#000;"></div>
<div style="left:886px;top:5px;width:1px;height:557px;background:#000;"></div>
<div style="left:901px;top:5px;width:1px;height:557px;background:#000;"></div>
<div style="left:916px;top:5px;width:1px;height:557px;background:#000;"></div>
<div style="left:931px;top:5px;width:1px;height:557px;background:#000;"></div>
<div style="left:946px;top:5px;width:1px;height:557px;background:#000;"></div>
<div style="left:961px;top:5px;width:1px;height:557px;background:#000;"></div>
<div style="left:976px;top:5px;width:1px;height:557px;background:#000;"></div>
<div style="left:991px;top:5px;width:1px;height:557px;background:#000;"></div>
<div style="left:1px;top:5px;width:991px;height:1px;background:#333;"></div>
<div style="left:1px;top:105px;width:991px;height:1px;background:#333;"></div>
<div style="left:1px;top:192px;width:991px;height:1px;background:#333;"></div>
<div style="left:1px;top:215px;width:991px;height:1px;background:#333;"></div>
<div style="left:1px;top:238px;width:991px;height:1px;background:#333;"></div>
<div style="left:1px;top:261px;width:991px;height:1px;background:#333;"></div>
<div style="left:1px;top:284px;width:991px;height:1px;background:#333;"></div>
<div style="left:1px;top:307px;width:991px;height:1px;background:#333;"></div>
<div style="left:1px;top:329px;width:991px;height:1px;background:#333;"></div>
<div style="left:1px;top:352px;width:991px;height:1px;background:#333;"></div>
<div style="left:1px;top:375px;width:991px;height:1px;background:#333;"></div>
<div style="left:1px;top:398px;width:991px;height:1px;background:#333;"></div>
<div style="left:1px;top:421px;width:991px;height:1px;background:#333;"></div>
<div style="left:1px;top:444px;width:991px;height:1px;background:#333;"></div>
<div style="left:1px;top:467px;width:991px;height:1px;background:#333;"></div>
<div style="left:1px;top:490px;width:991px;height:1px;background:#333;"></div>
<div style="left:1px;top:513px;width:991px;height:1px;background:#333;"></div>
<div style="left:1px;top:536px;width:991px;height:1px;background:#333;"></div>
<div style="left:1px;top:558px;width:991px;height:1px;background:#333;"></div>
<div style="left:1px;top:5px;width:1px;height:557px;background:#000;"></div>
<div style="left:32px;top:5px;width:1px;height:557px;background:#000;"></div>
<div style="left:88px;top:5px;width:1px;height:557px;background:#000;"></div>
<div style="left:189px;top:5px;width:1px;height:557px;background:#000;"></div>
<div style="left:290px;top:5px;width:1px;height:557px;background:#000;"></div>
<div style="left:391px;top:5px;width:1px;height:557px;background:#000;"></div>
<div style="left:451px;top:5px;width:1px;height:557px;background:#000;"></div>
<div style="left:481px;top:5px;width:1px;height:557px;background:#000;"></div>
<div style="left:511px;top:5px;width:1px;height:557px;background:#000;"></div>
<div style="left:541px;top:5px;width:1px;height:557px;background:#000;"></div>
<div style="left:571px;top:5px;width:1px;height:557px;background:#000;"></div>
<div style="left:586px;top:5px;width:1px;height:557px;background:#000;"></div>
<div style="left:601px;top:5px;width:1px;height:557px;background:#000;"></div>
<div style="left:616px;top:5px;width:1px;height:557px;background:#000;"></div>
<div style="left:631px;top:5px;width:1px;height:557px;background:#000;"></div>
<div style="left:646px;top:5px;width:1px;height:557px;background:#000;"></div>
<div style="left:661px;top:5px;width:1px;height:557px;background:#000;"></div>
<div style="left:676px;top:5px;width:1px;height:557px;background:#000;"></div>
<div style="left:691px;top:5px;width:1px;height:557px;background:#000;"></div>
<div style="left:706px;top:5px;width:1px;height:557px;background:#000;"></div>
<div style="left:721px;top:5px;width:1px;height:557px;background:#000;"></div>
<div style="left:736px;top:5px;width:1px;height:557px;background:#000;"></div>
<div style="left:751px;top:5px;width:1px;height:557px;background:#000;"></div>
<div style="left:766px;top:5px;width:1px;height:557px;background:#000;"></div>
<div style="left:781px;top:5px;width:1px;height:557px;background:#000;"></div>
<div style="left:796px;top:5px;width:1px;height:557px;background:#000;"></div>
<div style="left:811px;top:5px;width:1px;height:557px;background:#000;"></div>
<div style="left:826px;top:5px;width:1px;height:557px;background:#000;"></div>
<div style="left:841px;top:5px;width:1px;height:557px;background:#000;"></div>
<div style="left:856px;top:5px;width:1px;height:557px;background:#000;"></div>
<div style="left:871px;top:5px;width:1px;height:557px;background:#000;"></div>
<div style="left:886px;top:5px;width:1px;height:557px;background:#000;"></div>
<div style="left:901px;top:5px;width:1px;height:557px;background:#000;"></div>
<div style="left:916px;top:5px;width:1px;height:557px;background:#000;"></div>
<div style="left:931px;top:5px;width:1px;height:557px;background:#000;"></div>
<div style="left:946px;top:5px;width:1px;height:557px;background:#000;"></div>
<div style="left:961px;top:5px;width:1px;height:557px;background:#000;"></div>
<div style="left:976px;top:5px;width:1px;height:557px;background:#000;"></div>
<div style="left:991px;top:5px;width:1px;height:557px;background:#000;"></div>
</div></body></html>
